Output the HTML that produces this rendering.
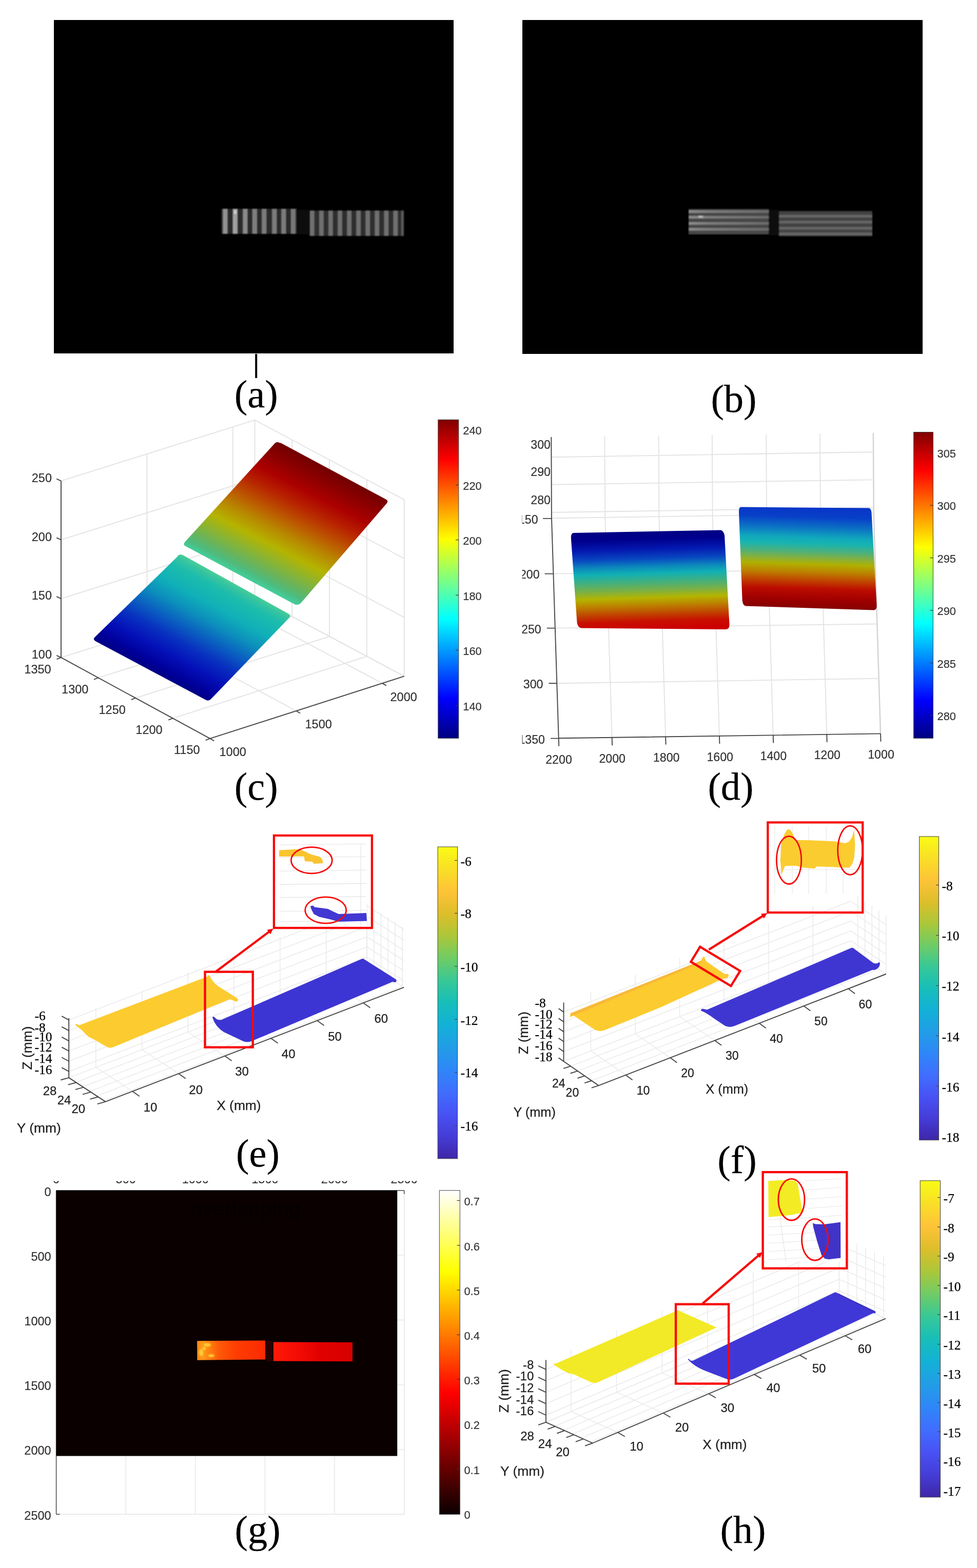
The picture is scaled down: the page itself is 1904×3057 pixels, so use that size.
<!DOCTYPE html>
<html lang="en"><head><meta charset="utf-8"><title>Figure</title>
<style>html,body{margin:0;padding:0;background:#fff}body{width:1904px;height:3057px;overflow:hidden}svg{display:block}text{white-space:pre}</style></head>
<body>
<svg width="1904" height="3057" viewBox="0 0 1904 3057"><defs><filter id="bl" x="-5%" y="-20%" width="110%" height="140%"><feGaussianBlur stdDeviation="1.3"/></filter><linearGradient id="g1" gradientUnits="userSpaceOnUse" x1="1342.0" y1="0.0" x2="1499.0" y2="0.0"><stop offset="0.0000" stop-color="#8c8c8c"/><stop offset="0.2500" stop-color="#7c7c7c"/><stop offset="1.0000" stop-color="#6a6a6a"/></linearGradient><linearGradient id="g2" gradientUnits="userSpaceOnUse" x1="349.4" y1="1081.1" x2="241.0" y2="1278.7"><stop offset="0.0000" stop-color="#46cc98"/><stop offset="0.0300" stop-color="#36c4a0"/><stop offset="0.1000" stop-color="#1cbcac"/><stop offset="0.2500" stop-color="#10b0b8"/><stop offset="0.3800" stop-color="#0c90bc"/><stop offset="0.5200" stop-color="#0a60c0"/><stop offset="0.6600" stop-color="#0830c0"/><stop offset="0.8000" stop-color="#0410b8"/><stop offset="0.9200" stop-color="#00009c"/><stop offset="1.0000" stop-color="#000084"/></linearGradient><linearGradient id="g3" gradientUnits="userSpaceOnUse" x1="539.0" y1="863.0" x2="418.5" y2="1093.1"><stop offset="0.0000" stop-color="#740000"/><stop offset="0.1000" stop-color="#8c0000"/><stop offset="0.2200" stop-color="#ac0000"/><stop offset="0.3400" stop-color="#b82400"/><stop offset="0.4600" stop-color="#bc5400"/><stop offset="0.5800" stop-color="#b88800"/><stop offset="0.7000" stop-color="#b4b400"/><stop offset="0.8000" stop-color="#8cb430"/><stop offset="0.9000" stop-color="#64b460"/><stop offset="0.9600" stop-color="#4cbc80"/><stop offset="1.0000" stop-color="#44cc98"/></linearGradient><linearGradient id="g4" gradientUnits="userSpaceOnUse" x1="0.0" y1="818.3" x2="0.0" y2="1439.3"><stop offset="0.0000" stop-color="#800000"/><stop offset="0.1250" stop-color="#ff0000"/><stop offset="0.2500" stop-color="#ff8000"/><stop offset="0.3750" stop-color="#ffff00"/><stop offset="0.5000" stop-color="#80ff80"/><stop offset="0.6250" stop-color="#00ffff"/><stop offset="0.7500" stop-color="#0080ff"/><stop offset="0.8750" stop-color="#0000ff"/><stop offset="1.0000" stop-color="#000080"/></linearGradient><clipPath id="clipd"><rect x="1017.6" y="830" width="760" height="680"/></clipPath><linearGradient id="g5" gradientUnits="userSpaceOnUse" x1="1262.0" y1="1036.0" x2="1268.0" y2="1226.0"><stop offset="0.0000" stop-color="#000084"/><stop offset="0.0800" stop-color="#00008c"/><stop offset="0.1800" stop-color="#0418b0"/><stop offset="0.2800" stop-color="#0848c0"/><stop offset="0.3600" stop-color="#0c88bc"/><stop offset="0.4300" stop-color="#10b0b4"/><stop offset="0.5200" stop-color="#44b07c"/><stop offset="0.6000" stop-color="#78b048"/><stop offset="0.6800" stop-color="#b4b400"/><stop offset="0.7600" stop-color="#bc8000"/><stop offset="0.8400" stop-color="#c04800"/><stop offset="0.9200" stop-color="#c81000"/><stop offset="1.0000" stop-color="#cc0000"/></linearGradient><linearGradient id="g6" gradientUnits="userSpaceOnUse" x1="1572.0" y1="988.0" x2="1566.0" y2="1187.0"><stop offset="0.0000" stop-color="#0834c8"/><stop offset="0.1000" stop-color="#0840c8"/><stop offset="0.2000" stop-color="#0c70c4"/><stop offset="0.3000" stop-color="#10a8bc"/><stop offset="0.3600" stop-color="#18b4b0"/><stop offset="0.4400" stop-color="#50b078"/><stop offset="0.5000" stop-color="#84b040"/><stop offset="0.5600" stop-color="#b0b000"/><stop offset="0.6400" stop-color="#bc8000"/><stop offset="0.7200" stop-color="#c04400"/><stop offset="0.8000" stop-color="#bc0c00"/><stop offset="0.9000" stop-color="#a00000"/><stop offset="1.0000" stop-color="#840000"/></linearGradient><linearGradient id="g7" gradientUnits="userSpaceOnUse" x1="0.0" y1="842.5" x2="0.0" y2="1439.3"><stop offset="0.0000" stop-color="#800000"/><stop offset="0.1250" stop-color="#ff0000"/><stop offset="0.2500" stop-color="#ff8000"/><stop offset="0.3750" stop-color="#ffff00"/><stop offset="0.5000" stop-color="#80ff80"/><stop offset="0.6250" stop-color="#00ffff"/><stop offset="0.7500" stop-color="#0080ff"/><stop offset="0.8750" stop-color="#0000ff"/><stop offset="1.0000" stop-color="#000080"/></linearGradient><linearGradient id="g8" gradientUnits="userSpaceOnUse" x1="0.0" y1="1651.0" x2="0.0" y2="2258.9"><stop offset="0.0000" stop-color="#f9fb15"/><stop offset="0.0710" stop-color="#f9df26"/><stop offset="0.1430" stop-color="#fec338"/><stop offset="0.2140" stop-color="#debe2a"/><stop offset="0.2860" stop-color="#abc739"/><stop offset="0.3570" stop-color="#70cc65"/><stop offset="0.4290" stop-color="#37c897"/><stop offset="0.5000" stop-color="#17beb9"/><stop offset="0.5710" stop-color="#12b1d6"/><stop offset="0.6430" stop-color="#229de7"/><stop offset="0.7140" stop-color="#2e87f7"/><stop offset="0.7850" stop-color="#406efe"/><stop offset="0.8570" stop-color="#4852f4"/><stop offset="0.9300" stop-color="#453cd6"/><stop offset="1.0000" stop-color="#3e26a8"/></linearGradient><linearGradient id="g9" gradientUnits="userSpaceOnUse" x1="0.0" y1="1630.9" x2="0.0" y2="2222.7"><stop offset="0.0000" stop-color="#f9fb15"/><stop offset="0.0710" stop-color="#f9df26"/><stop offset="0.1430" stop-color="#fec338"/><stop offset="0.2140" stop-color="#debe2a"/><stop offset="0.2860" stop-color="#abc739"/><stop offset="0.3570" stop-color="#70cc65"/><stop offset="0.4290" stop-color="#37c897"/><stop offset="0.5000" stop-color="#17beb9"/><stop offset="0.5710" stop-color="#12b1d6"/><stop offset="0.6430" stop-color="#229de7"/><stop offset="0.7140" stop-color="#2e87f7"/><stop offset="0.7850" stop-color="#406efe"/><stop offset="0.8570" stop-color="#4852f4"/><stop offset="0.9300" stop-color="#453cd6"/><stop offset="1.0000" stop-color="#3e26a8"/></linearGradient><clipPath id="clipg"><rect x="40" y="2302.5" width="800" height="5.5"/></clipPath><linearGradient id="g10" gradientUnits="userSpaceOnUse" x1="384.0" y1="0.0" x2="517.0" y2="0.0"><stop offset="0.0000" stop-color="#ff8410"/><stop offset="0.0800" stop-color="#ff9c1c"/><stop offset="0.2000" stop-color="#ff7a10"/><stop offset="0.3200" stop-color="#ff5a08"/><stop offset="0.5800" stop-color="#ff3c04"/><stop offset="1.0000" stop-color="#fc2a00"/></linearGradient><linearGradient id="g11" gradientUnits="userSpaceOnUse" x1="532.7" y1="0.0" x2="687.0" y2="0.0"><stop offset="0.0000" stop-color="#ff1a08"/><stop offset="0.3000" stop-color="#f40c04"/><stop offset="0.6000" stop-color="#e00000"/><stop offset="1.0000" stop-color="#d80000"/></linearGradient><linearGradient id="g12" gradientUnits="userSpaceOnUse" x1="0.0" y1="2320.9" x2="0.0" y2="2952.3"><stop offset="0.0000" stop-color="#ffffff"/><stop offset="0.2500" stop-color="#ffff00"/><stop offset="0.6250" stop-color="#ff0000"/><stop offset="1.0000" stop-color="#0a0000"/></linearGradient><linearGradient id="g13" gradientUnits="userSpaceOnUse" x1="0.0" y1="2301.9" x2="0.0" y2="2918.9"><stop offset="0.0000" stop-color="#f9fb15"/><stop offset="0.0710" stop-color="#f9df26"/><stop offset="0.1430" stop-color="#fec338"/><stop offset="0.2140" stop-color="#debe2a"/><stop offset="0.2860" stop-color="#abc739"/><stop offset="0.3570" stop-color="#70cc65"/><stop offset="0.4290" stop-color="#37c897"/><stop offset="0.5000" stop-color="#17beb9"/><stop offset="0.5710" stop-color="#12b1d6"/><stop offset="0.6430" stop-color="#229de7"/><stop offset="0.7140" stop-color="#2e87f7"/><stop offset="0.7850" stop-color="#406efe"/><stop offset="0.8570" stop-color="#4852f4"/><stop offset="0.9300" stop-color="#453cd6"/><stop offset="1.0000" stop-color="#3e26a8"/></linearGradient></defs>
<rect x="105.0" y="39.0" width="779.0" height="650.0" fill="#000" stroke="none" stroke-width="0" />
<g filter="url(#bl)"><rect x="431" y="407" width="148" height="49" fill="#2b2b2b"/><rect x="434.5" y="407" width="8.8" height="49" fill="#929292"/><rect x="453.9" y="407" width="8.8" height="49" fill="#a0a0a0"/><rect x="473.4" y="407" width="8.8" height="49" fill="#8a8a8a"/><rect x="492.0" y="407" width="8.8" height="49" fill="#7e7e7e"/><rect x="510.3" y="407" width="8.8" height="49" fill="#7c7c7c"/><rect x="530.3" y="407" width="8.8" height="49" fill="#7c7c7c"/><rect x="548.4" y="407" width="8.8" height="49" fill="#7c7c7c"/><rect x="567.0" y="407" width="8.8" height="49" fill="#787878"/><rect x="456.5" y="410" width="4" height="7" fill="#d8d8d8"/><rect x="581" y="409" width="20" height="48" fill="#0a0a0a"/><rect x="603" y="410.5" width="184" height="49.5" fill="#2e2e2e"/><rect x="604.1" y="410.5" width="8.4" height="49.5" fill="#707070"/><rect x="622.2" y="410.5" width="8.4" height="49.5" fill="#707070"/><rect x="640.2" y="410.5" width="8.4" height="49.5" fill="#707070"/><rect x="658.3" y="410.5" width="8.4" height="49.5" fill="#707070"/><rect x="676.4" y="410.5" width="8.4" height="49.5" fill="#707070"/><rect x="694.4" y="410.5" width="8.4" height="49.5" fill="#707070"/><rect x="712.5" y="410.5" width="8.4" height="49.5" fill="#707070"/><rect x="730.5" y="410.5" width="8.4" height="49.5" fill="#707070"/><rect x="748.6" y="410.5" width="8.4" height="49.5" fill="#707070"/><rect x="766.6" y="410.5" width="8.4" height="49.5" fill="#707070"/><rect x="782" y="410.5" width="5" height="49.5" fill="#5a5a5a"/></g>
<rect x="497.2" y="690.0" width="4.0" height="47.0" fill="#000" stroke="none" stroke-width="0" />
<rect x="1018.0" y="39.0" width="780.0" height="651.0" fill="#000" stroke="none" stroke-width="0" />
<g filter="url(#bl)"><rect x="1342" y="407.5" width="156.5" height="49.5" fill="#464646"/><rect x="1342" y="409.9" width="156.5" height="5.2" fill="url(#g1)"/><rect x="1342" y="420.9" width="156.5" height="5.2" fill="url(#g1)"/><rect x="1342" y="432.9" width="156.5" height="5.2" fill="url(#g1)"/><rect x="1342" y="444.4" width="156.5" height="5.2" fill="url(#g1)"/><rect x="1361" y="420.5" width="9" height="4" fill="#b8b8b8"/><rect x="1500" y="409" width="17" height="50" fill="#0c0c0c"/><rect x="1518" y="411.5" width="182" height="49" fill="#424242"/><rect x="1518" y="418.9" width="182" height="5.2" fill="#666666"/><rect x="1518" y="430.4" width="182" height="5.2" fill="#666666"/><rect x="1518" y="442.4" width="182" height="5.2" fill="#666666"/><rect x="1518" y="453.4" width="182" height="5.2" fill="#666666"/></g>
<line x1="119.0" y1="1281.9" x2="496.5" y2="1163.2" stroke="#e3e3e3" stroke-width="1.9" />
<line x1="496.5" y1="1163.2" x2="787.7" y2="1318.4" stroke="#e3e3e3" stroke-width="1.9" />
<line x1="119.0" y1="1167.1" x2="496.5" y2="1048.4" stroke="#e3e3e3" stroke-width="1.9" />
<line x1="496.5" y1="1048.4" x2="787.7" y2="1203.6" stroke="#e3e3e3" stroke-width="1.9" />
<line x1="119.0" y1="1052.4" x2="496.5" y2="933.7" stroke="#e3e3e3" stroke-width="1.9" />
<line x1="496.5" y1="933.7" x2="787.7" y2="1088.9" stroke="#e3e3e3" stroke-width="1.9" />
<line x1="119.0" y1="937.6" x2="496.5" y2="818.9" stroke="#e3e3e3" stroke-width="1.9" />
<line x1="496.5" y1="818.9" x2="787.7" y2="974.1" stroke="#e3e3e3" stroke-width="1.9" />
<line x1="286.5" y1="1229.2" x2="286.5" y2="884.9" stroke="#e3e3e3" stroke-width="1.9" />
<line x1="286.5" y1="1229.2" x2="577.2" y2="1386.0" stroke="#e3e3e3" stroke-width="1.9" />
<line x1="453.8" y1="1176.6" x2="453.8" y2="832.3" stroke="#e3e3e3" stroke-width="1.9" />
<line x1="453.8" y1="1176.6" x2="744.9" y2="1332.1" stroke="#e3e3e3" stroke-width="1.9" />
<line x1="496.5" y1="1163.2" x2="496.5" y2="818.9" stroke="#e3e3e3" stroke-width="1.9" />
<line x1="496.5" y1="1163.2" x2="787.7" y2="1318.4" stroke="#e3e3e3" stroke-width="1.9" />
<line x1="569.3" y1="1202.0" x2="569.3" y2="857.7" stroke="#e3e3e3" stroke-width="1.9" />
<line x1="569.3" y1="1202.0" x2="191.6" y2="1321.4" stroke="#e3e3e3" stroke-width="1.9" />
<line x1="642.1" y1="1240.8" x2="642.1" y2="896.5" stroke="#e3e3e3" stroke-width="1.9" />
<line x1="642.1" y1="1240.8" x2="264.1" y2="1360.9" stroke="#e3e3e3" stroke-width="1.9" />
<line x1="714.9" y1="1279.6" x2="714.9" y2="935.3" stroke="#e3e3e3" stroke-width="1.9" />
<line x1="714.9" y1="1279.6" x2="336.7" y2="1400.4" stroke="#e3e3e3" stroke-width="1.9" />
<line x1="787.7" y1="1318.4" x2="787.7" y2="974.1" stroke="#e3e3e3" stroke-width="1.9" />
<line x1="787.7" y1="1318.4" x2="409.3" y2="1439.9" stroke="#e3e3e3" stroke-width="1.9" />
<path d="M351,1081 Q347,1082 344,1087 L184,1243 Q181,1247 186,1250 L400,1364 Q406,1368 411,1363 L564,1204 Q567,1200 563,1197 L356,1082 Z" fill="url(#g2)" stroke="none" stroke-width="0" />
<path d="M541,862 Q537,862 534,866 L360,1057 Q356,1062 362,1065 L572,1177 Q580,1182 586,1176 L754,981 Q757,977 753,974 L548,864 Z" fill="url(#g3)" stroke="none" stroke-width="0" />
<line x1="119.0" y1="1281.9" x2="119.0" y2="937.6" stroke="#454545" stroke-width="1.9" />
<line x1="119.0" y1="1281.9" x2="409.3" y2="1439.9" stroke="#454545" stroke-width="1.9" />
<line x1="409.3" y1="1439.9" x2="787.7" y2="1318.4" stroke="#454545" stroke-width="1.9" />
<line x1="119.0" y1="1281.9" x2="110.2" y2="1277.9" stroke="#454545" stroke-width="1.9" />
<text x="101.0" y="1284.0" font-size="23.5" text-anchor="end" font-family="'Liberation Sans', Arial, Helvetica, sans-serif" fill="#303030" stroke="#303030" stroke-width="0.2" >100</text>
<line x1="119.0" y1="1167.1" x2="110.2" y2="1163.1" stroke="#454545" stroke-width="1.9" />
<text x="101.0" y="1169.2" font-size="23.5" text-anchor="end" font-family="'Liberation Sans', Arial, Helvetica, sans-serif" fill="#303030" stroke="#303030" stroke-width="0.2" >150</text>
<line x1="119.0" y1="1052.4" x2="110.2" y2="1048.4" stroke="#454545" stroke-width="1.9" />
<text x="101.0" y="1054.5" font-size="23.5" text-anchor="end" font-family="'Liberation Sans', Arial, Helvetica, sans-serif" fill="#303030" stroke="#303030" stroke-width="0.2" >200</text>
<line x1="119.0" y1="937.6" x2="110.2" y2="933.6" stroke="#454545" stroke-width="1.9" />
<text x="101.0" y="939.7" font-size="23.5" text-anchor="end" font-family="'Liberation Sans', Arial, Helvetica, sans-serif" fill="#303030" stroke="#303030" stroke-width="0.2" >250</text>
<line x1="119.0" y1="1281.9" x2="110.5" y2="1285.1" stroke="#454545" stroke-width="1.9" />
<text x="99.6" y="1313.2" font-size="23.5" text-anchor="end" font-family="'Liberation Sans', Arial, Helvetica, sans-serif" fill="#303030" stroke="#303030" stroke-width="0.2" >1350</text>
<line x1="191.6" y1="1321.4" x2="183.1" y2="1324.6" stroke="#454545" stroke-width="1.9" />
<text x="172.4" y="1352.3" font-size="23.5" text-anchor="end" font-family="'Liberation Sans', Arial, Helvetica, sans-serif" fill="#303030" stroke="#303030" stroke-width="0.2" >1300</text>
<line x1="264.1" y1="1360.9" x2="255.6" y2="1364.1" stroke="#454545" stroke-width="1.9" />
<text x="244.8" y="1391.6" font-size="23.5" text-anchor="end" font-family="'Liberation Sans', Arial, Helvetica, sans-serif" fill="#303030" stroke="#303030" stroke-width="0.2" >1250</text>
<line x1="336.7" y1="1400.4" x2="328.2" y2="1403.6" stroke="#454545" stroke-width="1.9" />
<text x="316.6" y="1431.0" font-size="23.5" text-anchor="end" font-family="'Liberation Sans', Arial, Helvetica, sans-serif" fill="#303030" stroke="#303030" stroke-width="0.2" >1200</text>
<line x1="409.3" y1="1439.9" x2="400.8" y2="1443.1" stroke="#454545" stroke-width="1.9" />
<text x="389.6" y="1470.3" font-size="23.5" text-anchor="end" font-family="'Liberation Sans', Arial, Helvetica, sans-serif" fill="#303030" stroke="#303030" stroke-width="0.2" >1150</text>
<line x1="409.3" y1="1439.9" x2="417.3" y2="1444.4" stroke="#454545" stroke-width="1.9" />
<text x="427.5" y="1474.4" font-size="23.5" text-anchor="start" font-family="'Liberation Sans', Arial, Helvetica, sans-serif" fill="#303030" stroke="#303030" stroke-width="0.2" >1000</text>
<line x1="577.2" y1="1386.0" x2="585.2" y2="1390.5" stroke="#454545" stroke-width="1.9" />
<text x="594.5" y="1420.0" font-size="23.5" text-anchor="start" font-family="'Liberation Sans', Arial, Helvetica, sans-serif" fill="#303030" stroke="#303030" stroke-width="0.2" >1500</text>
<line x1="744.9" y1="1332.1" x2="752.9" y2="1336.6" stroke="#454545" stroke-width="1.9" />
<text x="760.5" y="1366.8" font-size="23.5" text-anchor="start" font-family="'Liberation Sans', Arial, Helvetica, sans-serif" fill="#303030" stroke="#303030" stroke-width="0.2" >2000</text>
<rect x="853.8" y="818.3" width="40.0" height="621.0" fill="url(#g4)" stroke="#404040" stroke-width="1" />
<text x="902.3" y="847.4" font-size="21.8" text-anchor="start" font-family="'Liberation Sans', Arial, Helvetica, sans-serif" fill="#333" stroke="#333" stroke-width="0.2" >240</text>
<text x="902.3" y="955.1" font-size="21.8" text-anchor="start" font-family="'Liberation Sans', Arial, Helvetica, sans-serif" fill="#333" stroke="#333" stroke-width="0.2" >220</text>
<text x="902.3" y="1062.1" font-size="21.8" text-anchor="start" font-family="'Liberation Sans', Arial, Helvetica, sans-serif" fill="#333" stroke="#333" stroke-width="0.2" >200</text>
<text x="902.3" y="1169.8" font-size="21.8" text-anchor="start" font-family="'Liberation Sans', Arial, Helvetica, sans-serif" fill="#333" stroke="#333" stroke-width="0.2" >180</text>
<text x="902.3" y="1277.0" font-size="21.8" text-anchor="start" font-family="'Liberation Sans', Arial, Helvetica, sans-serif" fill="#333" stroke="#333" stroke-width="0.2" >160</text>
<text x="902.3" y="1385.0" font-size="21.8" text-anchor="start" font-family="'Liberation Sans', Arial, Helvetica, sans-serif" fill="#333" stroke="#333" stroke-width="0.2" >140</text>
<line x1="888.0" y1="837.9" x2="893.8" y2="837.9" stroke="#333" stroke-width="1.2" />
<line x1="888.0" y1="945.6" x2="893.8" y2="945.6" stroke="#333" stroke-width="1.2" />
<line x1="888.0" y1="1052.6" x2="893.8" y2="1052.6" stroke="#333" stroke-width="1.2" />
<line x1="888.0" y1="1160.3" x2="893.8" y2="1160.3" stroke="#333" stroke-width="1.2" />
<line x1="888.0" y1="1267.5" x2="893.8" y2="1267.5" stroke="#333" stroke-width="1.2" />
<line x1="888.0" y1="1375.5" x2="893.8" y2="1375.5" stroke="#333" stroke-width="1.2" />
<g clip-path="url(#clipd)">
<path d="M1178.4,850.4 L1179.2,1008.6 L1192.6,1437.7" fill="none" stroke="#e3e3e3" stroke-width="1.9" />
<path d="M1283.6,849.0 L1284.4,1007.1 L1297.1,1436.1" fill="none" stroke="#e3e3e3" stroke-width="1.9" />
<path d="M1387.8,847.7 L1388.6,1005.6 L1401.9,1434.5" fill="none" stroke="#e3e3e3" stroke-width="1.9" />
<path d="M1493.2,846.5 L1494.0,1004.1 L1506.7,1433.0" fill="none" stroke="#e3e3e3" stroke-width="1.9" />
<path d="M1598.0,845.2 L1598.8,1002.6 L1611.2,1431.4" fill="none" stroke="#e3e3e3" stroke-width="1.9" />
<path d="M1701.9,844 L1702.7,1001 L1716,1430.4" fill="none" stroke="#d2d2d2" stroke-width="2.4" />
<line x1="1074.5" y1="891.3" x2="1702.1" y2="881.2" stroke="#e3e3e3" stroke-width="1.9" />
<line x1="1074.7" y1="944.8" x2="1702.4" y2="935.4" stroke="#e3e3e3" stroke-width="1.9" />
<line x1="1074.8" y1="999.0" x2="1702.6" y2="989.6" stroke="#e3e3e3" stroke-width="1.9" />
<line x1="1074.9" y1="1010.3" x2="1702.7" y2="1001.0" stroke="#e3e3e3" stroke-width="1.9" />
<line x1="1078.4" y1="1118.6" x2="1706.1" y2="1109.5" stroke="#e3e3e3" stroke-width="1.9" />
<line x1="1081.8" y1="1224.6" x2="1709.4" y2="1216.5" stroke="#e3e3e3" stroke-width="1.9" />
<line x1="1085.3" y1="1332.2" x2="1712.7" y2="1322.8" stroke="#e3e3e3" stroke-width="1.9" />
<path d="M1117,1039 L1404,1033.5 Q1410,1034 1412,1044 L1421.5,1218 Q1421.5,1227 1414,1227 L1134,1224.5 Q1126,1224 1124.5,1214 L1113,1052 Q1112,1040 1117,1039 Z" fill="url(#g5)" stroke="none" stroke-width="0" />
<path d="M1444,988.5 L1693,990.5 Q1698,991 1698.5,1000 L1708.5,1180 Q1709,1190 1702,1189.5 L1454,1181.5 Q1447,1181 1446.5,1168 L1440,1000 Q1439.5,988.5 1444,988.5 Z" fill="url(#g6)" stroke="none" stroke-width="0" />
<path d="M1074.3,852 L1074.9,1009 L1088.7,1439.3 L1716,1430.4" fill="none" stroke="#454545" stroke-width="1.9" stroke-linejoin="round"/>
<line x1="1058.0" y1="1010.9" x2="1075.0" y2="1010.9" stroke="#454545" stroke-width="1.9" />
<text x="1048.6" y="1020.9" font-size="23.2" text-anchor="end" font-family="'Liberation Sans', Arial, Helvetica, sans-serif" fill="#303030" stroke="#303030" stroke-width="0.2" >150</text>
<line x1="1061.6" y1="1118.6" x2="1078.4" y2="1118.6" stroke="#454545" stroke-width="1.9" />
<text x="1051.6" y="1127.8" font-size="23.2" text-anchor="end" font-family="'Liberation Sans', Arial, Helvetica, sans-serif" fill="#303030" stroke="#303030" stroke-width="0.2" >200</text>
<line x1="1065.7" y1="1224.6" x2="1081.8" y2="1224.6" stroke="#454545" stroke-width="1.9" />
<text x="1054.7" y="1235.0" font-size="23.2" text-anchor="end" font-family="'Liberation Sans', Arial, Helvetica, sans-serif" fill="#303030" stroke="#303030" stroke-width="0.2" >250</text>
<line x1="1069.5" y1="1332.2" x2="1085.3" y2="1332.2" stroke="#454545" stroke-width="1.9" />
<text x="1058.5" y="1342.0" font-size="23.2" text-anchor="end" font-family="'Liberation Sans', Arial, Helvetica, sans-serif" fill="#303030" stroke="#303030" stroke-width="0.2" >300</text>
<line x1="1073.0" y1="1439.6" x2="1088.7" y2="1439.6" stroke="#454545" stroke-width="1.9" />
<text x="1062.0" y="1449.6" font-size="23.2" text-anchor="end" font-family="'Liberation Sans', Arial, Helvetica, sans-serif" fill="#303030" stroke="#303030" stroke-width="0.2" >1350</text>
<text x="1073.0" y="875.1" font-size="23.2" text-anchor="end" font-family="'Liberation Sans', Arial, Helvetica, sans-serif" fill="#303030" stroke="#303030" stroke-width="0.2" >300</text>
<text x="1073.0" y="928.1" font-size="23.2" text-anchor="end" font-family="'Liberation Sans', Arial, Helvetica, sans-serif" fill="#303030" stroke="#303030" stroke-width="0.2" >290</text>
<text x="1073.0" y="983.2" font-size="23.2" text-anchor="end" font-family="'Liberation Sans', Arial, Helvetica, sans-serif" fill="#303030" stroke="#303030" stroke-width="0.2" >280</text>
<line x1="1088.7" y1="1439.3" x2="1089.2" y2="1454.8" stroke="#454545" stroke-width="1.9" />
<text x="1089.0" y="1488.5" font-size="23.2" text-anchor="middle" font-family="'Liberation Sans', Arial, Helvetica, sans-serif" fill="#303030" stroke="#303030" stroke-width="0.2" >2200</text>
<line x1="1192.6" y1="1437.7" x2="1193.1" y2="1453.2" stroke="#454545" stroke-width="1.9" />
<text x="1193.2" y="1486.9" font-size="23.2" text-anchor="middle" font-family="'Liberation Sans', Arial, Helvetica, sans-serif" fill="#303030" stroke="#303030" stroke-width="0.2" >2000</text>
<line x1="1297.1" y1="1436.1" x2="1297.6" y2="1451.6" stroke="#454545" stroke-width="1.9" />
<text x="1298.7" y="1485.3" font-size="23.2" text-anchor="middle" font-family="'Liberation Sans', Arial, Helvetica, sans-serif" fill="#303030" stroke="#303030" stroke-width="0.2" >1800</text>
<line x1="1401.9" y1="1434.5" x2="1402.4" y2="1450.0" stroke="#454545" stroke-width="1.9" />
<text x="1403.2" y="1483.8" font-size="23.2" text-anchor="middle" font-family="'Liberation Sans', Arial, Helvetica, sans-serif" fill="#303030" stroke="#303030" stroke-width="0.2" >1600</text>
<line x1="1506.7" y1="1433.0" x2="1507.2" y2="1448.5" stroke="#454545" stroke-width="1.9" />
<text x="1507.3" y="1481.6" font-size="23.2" text-anchor="middle" font-family="'Liberation Sans', Arial, Helvetica, sans-serif" fill="#303030" stroke="#303030" stroke-width="0.2" >1400</text>
<line x1="1611.2" y1="1431.4" x2="1611.7" y2="1446.9" stroke="#454545" stroke-width="1.9" />
<text x="1612.2" y="1480.0" font-size="23.2" text-anchor="middle" font-family="'Liberation Sans', Arial, Helvetica, sans-serif" fill="#303030" stroke="#303030" stroke-width="0.2" >1200</text>
<line x1="1716.0" y1="1430.4" x2="1716.5" y2="1445.9" stroke="#454545" stroke-width="1.9" />
<text x="1717.0" y="1479.0" font-size="23.2" text-anchor="middle" font-family="'Liberation Sans', Arial, Helvetica, sans-serif" fill="#303030" stroke="#303030" stroke-width="0.2" >1000</text>
</g>
<rect x="1780.6" y="842.5" width="37.8" height="596.8" fill="url(#g7)" stroke="#404040" stroke-width="1" />
<text x="1826.6" y="891.5" font-size="21.8" text-anchor="start" font-family="'Liberation Sans', Arial, Helvetica, sans-serif" fill="#333" stroke="#333" stroke-width="0.2" >305</text>
<text x="1826.6" y="994.4" font-size="21.8" text-anchor="start" font-family="'Liberation Sans', Arial, Helvetica, sans-serif" fill="#333" stroke="#333" stroke-width="0.2" >300</text>
<text x="1826.6" y="1096.7" font-size="21.8" text-anchor="start" font-family="'Liberation Sans', Arial, Helvetica, sans-serif" fill="#333" stroke="#333" stroke-width="0.2" >295</text>
<text x="1826.6" y="1199.1" font-size="21.8" text-anchor="start" font-family="'Liberation Sans', Arial, Helvetica, sans-serif" fill="#333" stroke="#333" stroke-width="0.2" >290</text>
<text x="1826.6" y="1301.5" font-size="21.8" text-anchor="start" font-family="'Liberation Sans', Arial, Helvetica, sans-serif" fill="#333" stroke="#333" stroke-width="0.2" >285</text>
<text x="1826.6" y="1403.9" font-size="21.8" text-anchor="start" font-family="'Liberation Sans', Arial, Helvetica, sans-serif" fill="#333" stroke="#333" stroke-width="0.2" >280</text>
<line x1="1812.5" y1="882.4" x2="1818.4" y2="882.4" stroke="#333" stroke-width="1.2" />
<line x1="1812.5" y1="985.3" x2="1818.4" y2="985.3" stroke="#333" stroke-width="1.2" />
<line x1="1812.5" y1="1087.6" x2="1818.4" y2="1087.6" stroke="#333" stroke-width="1.2" />
<line x1="1812.5" y1="1190.0" x2="1818.4" y2="1190.0" stroke="#333" stroke-width="1.2" />
<line x1="1812.5" y1="1292.4" x2="1818.4" y2="1292.4" stroke="#333" stroke-width="1.2" />
<line x1="1812.5" y1="1394.8" x2="1818.4" y2="1394.8" stroke="#333" stroke-width="1.2" />
<line x1="134.2" y1="1988.6" x2="715.0" y2="1765.8" stroke="#e9e9e9" stroke-width="1.4" />
<line x1="715.0" y1="1765.8" x2="787.3" y2="1812.4" stroke="#e9e9e9" stroke-width="1.4" />
<line x1="134.2" y1="2009.4" x2="715.0" y2="1786.6" stroke="#e9e9e9" stroke-width="1.4" />
<line x1="715.0" y1="1786.6" x2="787.3" y2="1833.2" stroke="#e9e9e9" stroke-width="1.4" />
<line x1="134.2" y1="2029.3" x2="715.0" y2="1806.5" stroke="#e9e9e9" stroke-width="1.4" />
<line x1="715.0" y1="1806.5" x2="787.3" y2="1853.1" stroke="#e9e9e9" stroke-width="1.4" />
<line x1="134.2" y1="2049.1" x2="715.0" y2="1826.3" stroke="#e9e9e9" stroke-width="1.4" />
<line x1="715.0" y1="1826.3" x2="787.3" y2="1872.9" stroke="#e9e9e9" stroke-width="1.4" />
<line x1="134.2" y1="2069.0" x2="715.0" y2="1846.2" stroke="#e9e9e9" stroke-width="1.4" />
<line x1="715.0" y1="1846.2" x2="787.3" y2="1892.8" stroke="#e9e9e9" stroke-width="1.4" />
<line x1="134.2" y1="2088.8" x2="715.0" y2="1866.0" stroke="#e9e9e9" stroke-width="1.4" />
<line x1="715.0" y1="1866.0" x2="787.3" y2="1912.6" stroke="#e9e9e9" stroke-width="1.4" />
<line x1="186.8" y1="2080.9" x2="186.8" y2="1964.9" stroke="#e9e9e9" stroke-width="1.4" />
<line x1="186.8" y1="2080.9" x2="258.2" y2="2127.7" stroke="#e9e9e9" stroke-width="1.4" />
<line x1="276.6" y1="2046.5" x2="276.6" y2="1930.5" stroke="#e9e9e9" stroke-width="1.4" />
<line x1="276.6" y1="2046.5" x2="348.2" y2="2093.2" stroke="#e9e9e9" stroke-width="1.4" />
<line x1="366.3" y1="2012.0" x2="366.3" y2="1896.0" stroke="#e9e9e9" stroke-width="1.4" />
<line x1="366.3" y1="2012.0" x2="438.1" y2="2058.8" stroke="#e9e9e9" stroke-width="1.4" />
<line x1="456.1" y1="1977.6" x2="456.1" y2="1861.6" stroke="#e9e9e9" stroke-width="1.4" />
<line x1="456.1" y1="1977.6" x2="528.0" y2="2024.3" stroke="#e9e9e9" stroke-width="1.4" />
<line x1="545.9" y1="1943.2" x2="545.9" y2="1827.2" stroke="#e9e9e9" stroke-width="1.4" />
<line x1="545.9" y1="1943.2" x2="618.0" y2="1989.8" stroke="#e9e9e9" stroke-width="1.4" />
<line x1="635.7" y1="1908.7" x2="635.7" y2="1792.7" stroke="#e9e9e9" stroke-width="1.4" />
<line x1="635.7" y1="1908.7" x2="707.9" y2="1955.3" stroke="#e9e9e9" stroke-width="1.4" />
<line x1="715.0" y1="1878.3" x2="715.0" y2="1762.3" stroke="#e9e9e9" stroke-width="1.4" />
<line x1="715.0" y1="1878.3" x2="787.3" y2="1924.9" stroke="#e9e9e9" stroke-width="1.4" />
<line x1="715.0" y1="1878.3" x2="715.0" y2="1762.3" stroke="#e9e9e9" stroke-width="1.4" />
<line x1="715.0" y1="1878.3" x2="134.2" y2="2101.1" stroke="#e9e9e9" stroke-width="1.4" />
<line x1="728.7" y1="1887.2" x2="728.7" y2="1771.2" stroke="#e9e9e9" stroke-width="1.4" />
<line x1="728.7" y1="1887.2" x2="147.8" y2="2110.0" stroke="#e9e9e9" stroke-width="1.4" />
<line x1="742.5" y1="1896.0" x2="742.5" y2="1780.0" stroke="#e9e9e9" stroke-width="1.4" />
<line x1="742.5" y1="1896.0" x2="161.3" y2="2118.9" stroke="#e9e9e9" stroke-width="1.4" />
<line x1="756.2" y1="1904.9" x2="756.2" y2="1788.9" stroke="#e9e9e9" stroke-width="1.4" />
<line x1="756.2" y1="1904.9" x2="174.9" y2="2127.8" stroke="#e9e9e9" stroke-width="1.4" />
<line x1="769.9" y1="1913.7" x2="769.9" y2="1797.7" stroke="#e9e9e9" stroke-width="1.4" />
<line x1="769.9" y1="1913.7" x2="188.5" y2="2136.7" stroke="#e9e9e9" stroke-width="1.4" />
<line x1="784.0" y1="1922.8" x2="784.0" y2="1806.8" stroke="#e9e9e9" stroke-width="1.4" />
<line x1="784.0" y1="1922.8" x2="202.4" y2="2145.8" stroke="#e9e9e9" stroke-width="1.4" />
<path d="M147,1998.5 Q146.5,1996 150,1996.5 L154,1999 L404,1904 Q406,1899 409,1903 Q414,1914 424,1922 L462,1946 Q465,1949 463,1952 Q460,1954 456,1951 L448,1948 L222,2041 Q214,2044.5 208,2041 L186,2028 L172,2021 L158,2007 Z" fill="#fccb2f" stroke="none" stroke-width="0" />
<path d="M414,1984 Q415,1980 419,1984 Q424,1990 432,1988 L705,1869.5 Q708,1868 711,1871 L771,1909 Q774,1911 772,1914 Q770,1916 765,1914 L490,2030 Q482,2033 474,2030 L436,2012 Q420,2002 414,1984 Z" fill="#3d35d3" stroke="none" stroke-width="0" />
<line x1="134.2" y1="2101.6" x2="134.2" y2="1985.1" stroke="#454545" stroke-width="1.9" />
<line x1="134.2" y1="2101.1" x2="205.6" y2="2147.9" stroke="#454545" stroke-width="1.9" />
<line x1="205.6" y1="2147.9" x2="787.3" y2="1924.9" stroke="#454545" stroke-width="1.9" />
<line x1="134.2" y1="1988.6" x2="120.3" y2="1981.1" stroke="#454545" stroke-width="1.9" />
<line x1="134.2" y1="2009.4" x2="120.3" y2="2001.9" stroke="#454545" stroke-width="1.9" />
<line x1="134.2" y1="2029.3" x2="120.3" y2="2021.8" stroke="#454545" stroke-width="1.9" />
<line x1="134.2" y1="2049.1" x2="120.3" y2="2041.6" stroke="#454545" stroke-width="1.9" />
<line x1="134.2" y1="2069.0" x2="120.3" y2="2061.5" stroke="#454545" stroke-width="1.9" />
<line x1="134.2" y1="2088.8" x2="120.3" y2="2081.3" stroke="#454545" stroke-width="1.9" />
<line x1="134.2" y1="2101.1" x2="118.3" y2="2105.5" stroke="#454545" stroke-width="1.9" />
<line x1="148.5" y1="2110.5" x2="132.6" y2="2114.9" stroke="#454545" stroke-width="1.9" />
<line x1="162.8" y1="2119.8" x2="146.9" y2="2124.2" stroke="#454545" stroke-width="1.9" />
<line x1="177.0" y1="2129.2" x2="161.1" y2="2133.6" stroke="#454545" stroke-width="1.9" />
<line x1="191.3" y1="2138.5" x2="175.4" y2="2142.9" stroke="#454545" stroke-width="1.9" />
<line x1="205.6" y1="2147.9" x2="189.7" y2="2152.3" stroke="#454545" stroke-width="1.9" />
<line x1="258.2" y1="2127.7" x2="271.7" y2="2137.2" stroke="#454545" stroke-width="1.9" />
<line x1="348.2" y1="2093.2" x2="361.7" y2="2102.7" stroke="#454545" stroke-width="1.9" />
<line x1="438.1" y1="2058.8" x2="451.6" y2="2068.3" stroke="#454545" stroke-width="1.9" />
<line x1="528.0" y1="2024.3" x2="541.5" y2="2033.8" stroke="#454545" stroke-width="1.9" />
<line x1="618.0" y1="1989.8" x2="631.5" y2="1999.3" stroke="#454545" stroke-width="1.9" />
<line x1="707.9" y1="1955.3" x2="721.4" y2="1964.8" stroke="#454545" stroke-width="1.9" />
<rect x="399.5" y="1894.7" width="93.2" height="147.1" fill="none" stroke="#f80808" stroke-width="4.4" />
<line x1="419.0" y1="1895.5" x2="525.3" y2="1815.9" stroke="#f80808" stroke-width="4.3" />
<polygon points="532.5,1810.5 527.0,1821.5 520.4,1812.7" fill="#f80808" stroke="none" stroke-width="0" />
<rect x="535.0" y="1630.0" width="180.0" height="178.0" fill="#fff" stroke="none" stroke-width="0" />
<rect x="533.9" y="1628.9" width="191.0" height="180.2" fill="none" stroke="#f80808" stroke-width="4.3" />
<line x1="544.0" y1="1647.3" x2="713.5" y2="1645.3" stroke="#e2e2e2" stroke-width="1.1" />
<line x1="544.0" y1="1672.0" x2="713.5" y2="1670.0" stroke="#e2e2e2" stroke-width="1.1" />
<line x1="544.0" y1="1698.2" x2="713.5" y2="1696.2" stroke="#e2e2e2" stroke-width="1.1" />
<line x1="544.0" y1="1724.4" x2="713.5" y2="1722.4" stroke="#e2e2e2" stroke-width="1.1" />
<line x1="544.0" y1="1749.9" x2="713.5" y2="1747.9" stroke="#e2e2e2" stroke-width="1.1" />
<line x1="544.0" y1="1776.8" x2="713.5" y2="1774.8" stroke="#e2e2e2" stroke-width="1.1" />
<line x1="544.0" y1="1797.0" x2="713.5" y2="1795.0" stroke="#e2e2e2" stroke-width="1.1" />
<line x1="703.0" y1="1646.0" x2="703.0" y2="1806.0" stroke="#e2e2e2" stroke-width="1.1" />
<path d="M544,1657.5 L584,1655.5 L592,1659 L607,1666 L622,1670 Q629,1674 629,1680 L629,1683 L611,1684 L609,1680 L594,1679 L592.5,1669.5 L544,1670 Z" fill="#fac42e" stroke="none" stroke-width="0" />
<path d="M605,1766.5 L610,1765.5 L613,1768.5 L639,1772 L648,1776.5 L660,1782 L714,1780 L715,1795.5 L660,1797 L644,1792.5 L622,1787.5 L611.5,1782 L606,1771 Z" fill="#4238d2" stroke="none" stroke-width="0" />
<ellipse cx="607.3" cy="1677.3" rx="40.0" ry="25.6" fill="none" stroke="#f80808" stroke-width="2.8" />
<ellipse cx="634.7" cy="1774.5" rx="40.0" ry="25.6" fill="none" stroke="#f80808" stroke-width="2.8" />
<text x="67.5" y="1988.8" font-size="25.5" text-anchor="start" font-family="'Liberation Serif', 'Times New Roman', Times, serif" fill="#000" stroke="#000" stroke-width="0.25" >-6</text>
<text x="67.5" y="2011.8" font-size="25.5" text-anchor="start" font-family="'Liberation Serif', 'Times New Roman', Times, serif" fill="#000" stroke="#000" stroke-width="0.25" >-8</text>
<text x="67.5" y="2029.9" font-size="25.5" text-anchor="start" font-family="'Liberation Serif', 'Times New Roman', Times, serif" fill="#000" stroke="#000" stroke-width="0.25" >-10</text>
<text x="67.5" y="2049.9" font-size="25.5" text-anchor="start" font-family="'Liberation Serif', 'Times New Roman', Times, serif" fill="#000" stroke="#000" stroke-width="0.25" >-12</text>
<text x="67.5" y="2071.7" font-size="25.5" text-anchor="start" font-family="'Liberation Serif', 'Times New Roman', Times, serif" fill="#000" stroke="#000" stroke-width="0.25" >-14</text>
<text x="67.5" y="2093.5" font-size="25.5" text-anchor="start" font-family="'Liberation Serif', 'Times New Roman', Times, serif" fill="#000" stroke="#000" stroke-width="0.25" >-16</text>
<text transform="translate(52.3,2043.3) rotate(-90) scale(1.0,1)" x="0" y="9.45" font-size="26.4" text-anchor="middle" font-family="'Liberation Sans', Arial, Helvetica, sans-serif" fill="#1e1e1e" stroke="#1e1e1e" stroke-width="0.25">Z (mm)</text>
<text transform="translate(97.0,2126.5) scale(1.0,1)" x="0" y="8.59" font-size="24" text-anchor="middle" font-family="'Liberation Sans', Arial, Helvetica, sans-serif" fill="#1e1e1e" stroke="#1e1e1e" stroke-width="0.25">28</text>
<text transform="translate(125.0,2144.6) scale(1.0,1)" x="0" y="8.59" font-size="24" text-anchor="middle" font-family="'Liberation Sans', Arial, Helvetica, sans-serif" fill="#1e1e1e" stroke="#1e1e1e" stroke-width="0.25">24</text>
<text transform="translate(152.8,2161.8) scale(1.0,1)" x="0" y="8.59" font-size="24" text-anchor="middle" font-family="'Liberation Sans', Arial, Helvetica, sans-serif" fill="#1e1e1e" stroke="#1e1e1e" stroke-width="0.25">20</text>
<text transform="translate(75.8,2198.9) scale(1.0,1)" x="0" y="9.45" font-size="26.4" text-anchor="middle" font-family="'Liberation Sans', Arial, Helvetica, sans-serif" fill="#1e1e1e" stroke="#1e1e1e" stroke-width="0.25">Y (mm)</text>
<text transform="translate(293.0,2158.7) scale(1.0,1)" x="0" y="8.59" font-size="24" text-anchor="middle" font-family="'Liberation Sans', Arial, Helvetica, sans-serif" fill="#1e1e1e" stroke="#1e1e1e" stroke-width="0.25">10</text>
<text transform="translate(381.7,2124.1) scale(1.0,1)" x="0" y="8.59" font-size="24" text-anchor="middle" font-family="'Liberation Sans', Arial, Helvetica, sans-serif" fill="#1e1e1e" stroke="#1e1e1e" stroke-width="0.25">20</text>
<text transform="translate(471.5,2088.9) scale(1.0,1)" x="0" y="8.59" font-size="24" text-anchor="middle" font-family="'Liberation Sans', Arial, Helvetica, sans-serif" fill="#1e1e1e" stroke="#1e1e1e" stroke-width="0.25">30</text>
<text transform="translate(562.2,2054.9) scale(1.0,1)" x="0" y="8.59" font-size="24" text-anchor="middle" font-family="'Liberation Sans', Arial, Helvetica, sans-serif" fill="#1e1e1e" stroke="#1e1e1e" stroke-width="0.25">40</text>
<text transform="translate(652.6,2020.3) scale(1.0,1)" x="0" y="8.59" font-size="24" text-anchor="middle" font-family="'Liberation Sans', Arial, Helvetica, sans-serif" fill="#1e1e1e" stroke="#1e1e1e" stroke-width="0.25">50</text>
<text transform="translate(742.8,1985.6) scale(1.0,1)" x="0" y="8.59" font-size="24" text-anchor="middle" font-family="'Liberation Sans', Arial, Helvetica, sans-serif" fill="#1e1e1e" stroke="#1e1e1e" stroke-width="0.25">60</text>
<text transform="translate(465.4,2154.4) scale(1.0,1)" x="0" y="9.45" font-size="26.4" text-anchor="middle" font-family="'Liberation Sans', Arial, Helvetica, sans-serif" fill="#1e1e1e" stroke="#1e1e1e" stroke-width="0.25">X (mm)</text>
<rect x="853.1" y="1651.0" width="38.5" height="607.9" fill="url(#g8)" stroke="#404040" stroke-width="1" />
<text x="897.5" y="1688.0" font-size="25.5" text-anchor="start" font-family="'Liberation Serif', 'Times New Roman', Times, serif" fill="#000" stroke="#000" stroke-width="0.25" >-6</text>
<text x="897.5" y="1790.3" font-size="25.5" text-anchor="start" font-family="'Liberation Serif', 'Times New Roman', Times, serif" fill="#000" stroke="#000" stroke-width="0.25" >-8</text>
<text x="897.5" y="1894.2" font-size="25.5" text-anchor="start" font-family="'Liberation Serif', 'Times New Roman', Times, serif" fill="#000" stroke="#000" stroke-width="0.25" >-10</text>
<text x="897.5" y="1997.7" font-size="25.5" text-anchor="start" font-family="'Liberation Serif', 'Times New Roman', Times, serif" fill="#000" stroke="#000" stroke-width="0.25" >-12</text>
<text x="897.5" y="2100.4" font-size="25.5" text-anchor="start" font-family="'Liberation Serif', 'Times New Roman', Times, serif" fill="#000" stroke="#000" stroke-width="0.25" >-14</text>
<text x="897.5" y="2203.6" font-size="25.5" text-anchor="start" font-family="'Liberation Serif', 'Times New Roman', Times, serif" fill="#000" stroke="#000" stroke-width="0.25" >-16</text>
<line x1="886.0" y1="1677.5" x2="891.6" y2="1677.5" stroke="#444" stroke-width="1.2" />
<line x1="886.0" y1="1780.5" x2="891.6" y2="1780.5" stroke="#444" stroke-width="1.2" />
<line x1="886.0" y1="1884.0" x2="891.6" y2="1884.0" stroke="#444" stroke-width="1.2" />
<line x1="886.0" y1="1987.5" x2="891.6" y2="1987.5" stroke="#444" stroke-width="1.2" />
<line x1="886.0" y1="2091.0" x2="891.6" y2="2091.0" stroke="#444" stroke-width="1.2" />
<line x1="886.0" y1="2194.5" x2="891.6" y2="2194.5" stroke="#444" stroke-width="1.2" />
<line x1="1098.5" y1="2069.3" x2="1657.9" y2="1853.3" stroke="#e9e9e9" stroke-width="1.4" />
<line x1="1657.9" y1="1853.3" x2="1726.8" y2="1899.0" stroke="#e9e9e9" stroke-width="1.4" />
<line x1="1098.5" y1="2050.1" x2="1657.9" y2="1834.0" stroke="#e9e9e9" stroke-width="1.4" />
<line x1="1657.9" y1="1834.0" x2="1726.8" y2="1879.8" stroke="#e9e9e9" stroke-width="1.4" />
<line x1="1098.5" y1="2030.8" x2="1657.9" y2="1814.8" stroke="#e9e9e9" stroke-width="1.4" />
<line x1="1657.9" y1="1814.8" x2="1726.8" y2="1860.5" stroke="#e9e9e9" stroke-width="1.4" />
<line x1="1098.5" y1="2011.6" x2="1657.9" y2="1795.5" stroke="#e9e9e9" stroke-width="1.4" />
<line x1="1657.9" y1="1795.5" x2="1726.8" y2="1841.2" stroke="#e9e9e9" stroke-width="1.4" />
<line x1="1098.5" y1="1992.3" x2="1657.9" y2="1776.3" stroke="#e9e9e9" stroke-width="1.4" />
<line x1="1657.9" y1="1776.3" x2="1726.8" y2="1822.0" stroke="#e9e9e9" stroke-width="1.4" />
<line x1="1098.5" y1="1973.1" x2="1657.9" y2="1757.0" stroke="#e9e9e9" stroke-width="1.4" />
<line x1="1657.9" y1="1757.0" x2="1726.8" y2="1802.8" stroke="#e9e9e9" stroke-width="1.4" />
<line x1="1151.4" y1="2048.9" x2="1151.4" y2="1934.1" stroke="#e9e9e9" stroke-width="1.4" />
<line x1="1151.4" y1="2048.9" x2="1219.5" y2="2095.9" stroke="#e9e9e9" stroke-width="1.4" />
<line x1="1238.0" y1="2015.5" x2="1238.0" y2="1900.7" stroke="#e9e9e9" stroke-width="1.4" />
<line x1="1238.0" y1="2015.5" x2="1306.3" y2="2062.2" stroke="#e9e9e9" stroke-width="1.4" />
<line x1="1324.6" y1="1982.0" x2="1324.6" y2="1867.2" stroke="#e9e9e9" stroke-width="1.4" />
<line x1="1324.6" y1="1982.0" x2="1393.0" y2="2028.5" stroke="#e9e9e9" stroke-width="1.4" />
<line x1="1411.1" y1="1948.6" x2="1411.1" y2="1833.8" stroke="#e9e9e9" stroke-width="1.4" />
<line x1="1411.1" y1="1948.6" x2="1479.7" y2="1994.9" stroke="#e9e9e9" stroke-width="1.4" />
<line x1="1497.7" y1="1915.1" x2="1497.7" y2="1800.3" stroke="#e9e9e9" stroke-width="1.4" />
<line x1="1497.7" y1="1915.1" x2="1566.4" y2="1961.2" stroke="#e9e9e9" stroke-width="1.4" />
<line x1="1584.3" y1="1881.7" x2="1584.3" y2="1766.9" stroke="#e9e9e9" stroke-width="1.4" />
<line x1="1584.3" y1="1881.7" x2="1653.1" y2="1927.6" stroke="#e9e9e9" stroke-width="1.4" />
<line x1="1671.7" y1="1862.4" x2="1671.7" y2="1747.6" stroke="#e9e9e9" stroke-width="1.4" />
<line x1="1671.7" y1="1862.4" x2="1112.1" y2="2078.7" stroke="#e9e9e9" stroke-width="1.4" />
<line x1="1685.5" y1="1871.6" x2="1685.5" y2="1756.8" stroke="#e9e9e9" stroke-width="1.4" />
<line x1="1685.5" y1="1871.6" x2="1125.7" y2="2088.1" stroke="#e9e9e9" stroke-width="1.4" />
<line x1="1699.2" y1="1880.7" x2="1699.2" y2="1765.9" stroke="#e9e9e9" stroke-width="1.4" />
<line x1="1699.2" y1="1880.7" x2="1139.4" y2="2097.6" stroke="#e9e9e9" stroke-width="1.4" />
<line x1="1713.0" y1="1889.9" x2="1713.0" y2="1775.1" stroke="#e9e9e9" stroke-width="1.4" />
<line x1="1713.0" y1="1889.9" x2="1153.0" y2="2107.0" stroke="#e9e9e9" stroke-width="1.4" />
<line x1="1726.8" y1="1899.0" x2="1726.8" y2="1784.2" stroke="#e9e9e9" stroke-width="1.4" />
<line x1="1726.8" y1="1899.0" x2="1166.6" y2="2116.4" stroke="#e9e9e9" stroke-width="1.4" />
<path d="M1111,1983 L1111.5,1977 Q1113,1974 1117,1973.5 L1350,1879.5 L1366,1873 Q1370,1866 1371.5,1864 Q1374,1868 1376,1874 L1412,1899 L1418,1898.5 L1420.5,1902 L1417,1907 L1409,1908 L1290,1962.8 L1178,2008.5 Q1168,2012 1160,2008 L1130,1988 L1118,1980 Z" fill="#fccb2f" stroke="none" stroke-width="0" />
<path d="M1111.5,1981 L1112,1977 Q1113,1974 1117,1973.5 L1366,1873 L1368,1876.5 L1122,1978 Z" fill="#f7b93a" stroke="none" stroke-width="0" />
<path d="M1366,1970.5 Q1366,1966 1371,1967 L1378,1968.5 L1658,1848.5 Q1662,1846.5 1665,1850 L1702,1877.5 Q1709,1880 1714,1875.5 Q1716,1880 1713,1885 Q1708,1892 1700,1891 L1432,2000 Q1422,2004 1413,2000 L1392,1986 Q1376,1974 1366,1970.5 Z" fill="#3f36d2" stroke="none" stroke-width="0" />
<line x1="1098.5" y1="2069.8" x2="1098.5" y2="1954.5" stroke="#454545" stroke-width="1.9" />
<line x1="1098.5" y1="2069.3" x2="1166.6" y2="2116.4" stroke="#454545" stroke-width="1.9" />
<line x1="1166.6" y1="2116.4" x2="1726.8" y2="1899.0" stroke="#454545" stroke-width="1.9" />
<line x1="1098.5" y1="2069.3" x2="1088.6" y2="2062.4" stroke="#454545" stroke-width="1.9" />
<line x1="1098.5" y1="2050.1" x2="1088.6" y2="2043.2" stroke="#454545" stroke-width="1.9" />
<line x1="1098.5" y1="2030.8" x2="1088.6" y2="2023.9" stroke="#454545" stroke-width="1.9" />
<line x1="1098.5" y1="2011.6" x2="1088.6" y2="2004.7" stroke="#454545" stroke-width="1.9" />
<line x1="1098.5" y1="1992.3" x2="1088.6" y2="1985.4" stroke="#454545" stroke-width="1.9" />
<line x1="1098.5" y1="1973.1" x2="1088.6" y2="1966.2" stroke="#454545" stroke-width="1.9" />
<line x1="1112.1" y1="2078.7" x2="1098.2" y2="2083.1" stroke="#454545" stroke-width="1.9" />
<line x1="1125.7" y1="2088.1" x2="1111.8" y2="2092.5" stroke="#454545" stroke-width="1.9" />
<line x1="1139.4" y1="2097.6" x2="1125.5" y2="2102.0" stroke="#454545" stroke-width="1.9" />
<line x1="1153.0" y1="2107.0" x2="1139.1" y2="2111.4" stroke="#454545" stroke-width="1.9" />
<line x1="1166.6" y1="2116.4" x2="1152.7" y2="2120.8" stroke="#454545" stroke-width="1.9" />
<line x1="1219.5" y1="2095.9" x2="1232.5" y2="2105.5" stroke="#454545" stroke-width="1.9" />
<line x1="1306.3" y1="2062.2" x2="1319.3" y2="2071.8" stroke="#454545" stroke-width="1.9" />
<line x1="1393.0" y1="2028.5" x2="1406.0" y2="2038.1" stroke="#454545" stroke-width="1.9" />
<line x1="1479.7" y1="1994.9" x2="1492.7" y2="2004.5" stroke="#454545" stroke-width="1.9" />
<line x1="1566.4" y1="1961.2" x2="1579.4" y2="1970.8" stroke="#454545" stroke-width="1.9" />
<line x1="1653.1" y1="1927.6" x2="1666.1" y2="1937.2" stroke="#454545" stroke-width="1.9" />
<polygon points="1364.3,1845.8 1442.4,1892.9 1424.4,1922.3 1346.4,1875.2" fill="none" stroke="#f80808" stroke-width="4.4" />
<line x1="1381.4" y1="1851.4" x2="1487.6" y2="1785.1" stroke="#f80808" stroke-width="4.3" />
<polygon points="1495.2,1780.3 1488.8,1790.8 1483.0,1781.5" fill="#f80808" stroke="none" stroke-width="0" />
<rect x="1502.0" y="1606.0" width="178.0" height="138.0" fill="#fff" stroke="none" stroke-width="0" />
<line x1="1509.8" y1="1610.4" x2="1509.8" y2="1742.8" stroke="#e6e6e6" stroke-width="1.1" />
<line x1="1544.0" y1="1610.4" x2="1544.0" y2="1742.8" stroke="#e6e6e6" stroke-width="1.1" />
<line x1="1576.0" y1="1610.4" x2="1576.0" y2="1742.8" stroke="#e6e6e6" stroke-width="1.1" />
<line x1="1610.2" y1="1610.4" x2="1610.2" y2="1742.8" stroke="#e6e6e6" stroke-width="1.1" />
<line x1="1643.0" y1="1610.4" x2="1643.0" y2="1742.8" stroke="#e6e6e6" stroke-width="1.1" />
<line x1="1508.0" y1="1695.5" x2="1676.0" y2="1695.5" stroke="#e6e6e6" stroke-width="1.1" />
<polygon points="1534.6,1616.9 1530.2,1623.5 1527.3,1629.3 1522.2,1648.2 1520.7,1677.3 1522.9,1706.4 1525.8,1697.7 1530.2,1688.2 1549.8,1687.8 1567.3,1691.8 1587.7,1693.6 1591.3,1689.2 1625.5,1690.4 1654.6,1692.1 1661.1,1684.6 1664.8,1671.5 1666.5,1648.2 1664.5,1617.6 1660.4,1632.2 1654.6,1640.9 1647.3,1644.1 1625.5,1640.2 1567.3,1637.7 1550.6,1638.0 1544.7,1625.6 1539.7,1617.6" fill="#fbcc30" stroke="none" stroke-width="0" />
<ellipse cx="1537.5" cy="1676.9" rx="24.2" ry="46.6" fill="none" stroke="#f80808" stroke-width="2.8" />
<ellipse cx="1656.8" cy="1657.7" rx="24.2" ry="47.6" fill="none" stroke="#f80808" stroke-width="2.8" />
<rect x="1496.3" y="1603.4" width="184.9" height="175.7" fill="none" stroke="#f80808" stroke-width="4.3" />
<text x="1042.5" y="1963.8" font-size="25.5" text-anchor="start" font-family="'Liberation Serif', 'Times New Roman', Times, serif" fill="#000" stroke="#000" stroke-width="0.25" >-8</text>
<text x="1042.5" y="1986.4" font-size="25.5" text-anchor="start" font-family="'Liberation Serif', 'Times New Roman', Times, serif" fill="#000" stroke="#000" stroke-width="0.25" >-10</text>
<text x="1042.5" y="2004.8" font-size="25.5" text-anchor="start" font-family="'Liberation Serif', 'Times New Roman', Times, serif" fill="#000" stroke="#000" stroke-width="0.25" >-12</text>
<text x="1042.5" y="2024.8" font-size="25.5" text-anchor="start" font-family="'Liberation Serif', 'Times New Roman', Times, serif" fill="#000" stroke="#000" stroke-width="0.25" >-14</text>
<text x="1042.5" y="2046.8" font-size="25.5" text-anchor="start" font-family="'Liberation Serif', 'Times New Roman', Times, serif" fill="#000" stroke="#000" stroke-width="0.25" >-16</text>
<text x="1042.5" y="2068.8" font-size="25.5" text-anchor="start" font-family="'Liberation Serif', 'Times New Roman', Times, serif" fill="#000" stroke="#000" stroke-width="0.25" >-18</text>
<text transform="translate(1019.9,2013.6) rotate(-90) scale(1.0,1)" x="0" y="9.24" font-size="25.8" text-anchor="middle" font-family="'Liberation Sans', Arial, Helvetica, sans-serif" fill="#1e1e1e" stroke="#1e1e1e" stroke-width="0.25">Z (mm)</text>
<text transform="translate(1088.7,2112.1) scale(1.0,1)" x="0" y="8.23" font-size="23" text-anchor="middle" font-family="'Liberation Sans', Arial, Helvetica, sans-serif" fill="#1e1e1e" stroke="#1e1e1e" stroke-width="0.25">24</text>
<text transform="translate(1115.4,2129.3) scale(1.0,1)" x="0" y="8.23" font-size="23" text-anchor="middle" font-family="'Liberation Sans', Arial, Helvetica, sans-serif" fill="#1e1e1e" stroke="#1e1e1e" stroke-width="0.25">20</text>
<text transform="translate(1041.6,2168.0) scale(1.0,1)" x="0" y="9.06" font-size="25.3" text-anchor="middle" font-family="'Liberation Sans', Arial, Helvetica, sans-serif" fill="#1e1e1e" stroke="#1e1e1e" stroke-width="0.25">Y (mm)</text>
<text transform="translate(1253.5,2125.4) scale(1.0,1)" x="0" y="8.23" font-size="23" text-anchor="middle" font-family="'Liberation Sans', Arial, Helvetica, sans-serif" fill="#1e1e1e" stroke="#1e1e1e" stroke-width="0.25">10</text>
<text transform="translate(1340.1,2091.4) scale(1.0,1)" x="0" y="8.23" font-size="23" text-anchor="middle" font-family="'Liberation Sans', Arial, Helvetica, sans-serif" fill="#1e1e1e" stroke="#1e1e1e" stroke-width="0.25">20</text>
<text transform="translate(1426.7,2057.4) scale(1.0,1)" x="0" y="8.23" font-size="23" text-anchor="middle" font-family="'Liberation Sans', Arial, Helvetica, sans-serif" fill="#1e1e1e" stroke="#1e1e1e" stroke-width="0.25">30</text>
<text transform="translate(1513.0,2024.4) scale(1.0,1)" x="0" y="8.23" font-size="23" text-anchor="middle" font-family="'Liberation Sans', Arial, Helvetica, sans-serif" fill="#1e1e1e" stroke="#1e1e1e" stroke-width="0.25">40</text>
<text transform="translate(1599.9,1990.7) scale(1.0,1)" x="0" y="8.23" font-size="23" text-anchor="middle" font-family="'Liberation Sans', Arial, Helvetica, sans-serif" fill="#1e1e1e" stroke="#1e1e1e" stroke-width="0.25">50</text>
<text transform="translate(1686.4,1957.3) scale(1.0,1)" x="0" y="8.23" font-size="23" text-anchor="middle" font-family="'Liberation Sans', Arial, Helvetica, sans-serif" fill="#1e1e1e" stroke="#1e1e1e" stroke-width="0.25">60</text>
<text transform="translate(1416.8,2122.8) scale(1.0,1)" x="0" y="9.06" font-size="25.3" text-anchor="middle" font-family="'Liberation Sans', Arial, Helvetica, sans-serif" fill="#1e1e1e" stroke="#1e1e1e" stroke-width="0.25">X (mm)</text>
<rect x="1791.6" y="1630.9" width="37.8" height="591.8" fill="url(#g9)" stroke="#404040" stroke-width="1" />
<text x="1835.5" y="1735.6" font-size="25.5" text-anchor="start" font-family="'Liberation Serif', 'Times New Roman', Times, serif" fill="#000" stroke="#000" stroke-width="0.25" >-8</text>
<text x="1835.5" y="1833.2" font-size="25.5" text-anchor="start" font-family="'Liberation Serif', 'Times New Roman', Times, serif" fill="#000" stroke="#000" stroke-width="0.25" >-10</text>
<text x="1835.5" y="1931.4" font-size="25.5" text-anchor="start" font-family="'Liberation Serif', 'Times New Roman', Times, serif" fill="#000" stroke="#000" stroke-width="0.25" >-12</text>
<text x="1835.5" y="2029.8" font-size="25.5" text-anchor="start" font-family="'Liberation Serif', 'Times New Roman', Times, serif" fill="#000" stroke="#000" stroke-width="0.25" >-14</text>
<text x="1835.5" y="2128.1" font-size="25.5" text-anchor="start" font-family="'Liberation Serif', 'Times New Roman', Times, serif" fill="#000" stroke="#000" stroke-width="0.25" >-16</text>
<text x="1835.5" y="2226.3" font-size="25.5" text-anchor="start" font-family="'Liberation Serif', 'Times New Roman', Times, serif" fill="#000" stroke="#000" stroke-width="0.25" >-18</text>
<line x1="1824.0" y1="1725.5" x2="1829.4" y2="1725.5" stroke="#444" stroke-width="1.2" />
<line x1="1824.0" y1="1823.5" x2="1829.4" y2="1823.5" stroke="#444" stroke-width="1.2" />
<line x1="1824.0" y1="1921.5" x2="1829.4" y2="1921.5" stroke="#444" stroke-width="1.2" />
<line x1="1824.0" y1="2019.5" x2="1829.4" y2="2019.5" stroke="#444" stroke-width="1.2" />
<line x1="1824.0" y1="2117.5" x2="1829.4" y2="2117.5" stroke="#444" stroke-width="1.2" />
<line x1="1824.0" y1="2215.5" x2="1829.4" y2="2215.5" stroke="#444" stroke-width="1.2" />
<g clip-path="url(#clipg)">
<text x="109.6" y="2307.0" font-size="23.5" text-anchor="middle" font-family="'Liberation Sans', Arial, Helvetica, sans-serif" fill="#303030" stroke="#303030" stroke-width="0.2" >0</text>
<text x="245.2" y="2307.0" font-size="23.5" text-anchor="middle" font-family="'Liberation Sans', Arial, Helvetica, sans-serif" fill="#303030" stroke="#303030" stroke-width="0.2" >500</text>
<text x="380.8" y="2307.0" font-size="23.5" text-anchor="middle" font-family="'Liberation Sans', Arial, Helvetica, sans-serif" fill="#303030" stroke="#303030" stroke-width="0.2" >1000</text>
<text x="516.4" y="2307.0" font-size="23.5" text-anchor="middle" font-family="'Liberation Sans', Arial, Helvetica, sans-serif" fill="#303030" stroke="#303030" stroke-width="0.2" >1500</text>
<text x="652.0" y="2307.0" font-size="23.5" text-anchor="middle" font-family="'Liberation Sans', Arial, Helvetica, sans-serif" fill="#303030" stroke="#303030" stroke-width="0.2" >2000</text>
<text x="787.6" y="2307.0" font-size="23.5" text-anchor="middle" font-family="'Liberation Sans', Arial, Helvetica, sans-serif" fill="#303030" stroke="#303030" stroke-width="0.2" >2500</text>
</g>
<line x1="109.6" y1="2952.3" x2="787.7" y2="2952.3" stroke="#e4e4e4" stroke-width="1.4" />
<line x1="787.7" y1="2320.9" x2="787.7" y2="2952.3" stroke="#e4e4e4" stroke-width="1.4" />
<line x1="245.2" y1="2320.9" x2="245.2" y2="2952.3" stroke="#e4e4e4" stroke-width="1.3" />
<line x1="109.6" y1="2447.2" x2="787.7" y2="2447.2" stroke="#e4e4e4" stroke-width="1.3" />
<line x1="380.8" y1="2320.9" x2="380.8" y2="2952.3" stroke="#e4e4e4" stroke-width="1.3" />
<line x1="109.6" y1="2573.5" x2="787.7" y2="2573.5" stroke="#e4e4e4" stroke-width="1.3" />
<line x1="516.4" y1="2320.9" x2="516.4" y2="2952.3" stroke="#e4e4e4" stroke-width="1.3" />
<line x1="109.6" y1="2699.8" x2="787.7" y2="2699.8" stroke="#e4e4e4" stroke-width="1.3" />
<line x1="652.0" y1="2320.9" x2="652.0" y2="2952.3" stroke="#e4e4e4" stroke-width="1.3" />
<line x1="109.6" y1="2826.1" x2="787.7" y2="2826.1" stroke="#e4e4e4" stroke-width="1.3" />
<line x1="109.6" y1="2320.9" x2="109.6" y2="2952.3" stroke="#454545" stroke-width="1.5" />
<line x1="109.6" y1="2320.9" x2="787.7" y2="2320.9" stroke="#454545" stroke-width="1.5" />
<line x1="109.6" y1="2952.3" x2="116.6" y2="2952.3" stroke="#454545" stroke-width="1.5" />
<line x1="787.7" y1="2320.9" x2="787.7" y2="2327.9" stroke="#454545" stroke-width="1.5" />
<rect x="109.6" y="2320.9" width="664.6" height="517.7" fill="#0a0000" stroke="none" stroke-width="0" />
<text x="478.5" y="2370.0" font-size="41.5" text-anchor="middle" font-family="'Liberation Sans', Arial, Helvetica, sans-serif" fill="#040000" stroke="#040000" stroke-width="0.2" >overlapping</text>
<rect x="519.0" y="2614.0" width="12.0" height="40.0" fill="#2c0000" stroke="none" stroke-width="0" />
<polygon points="384.1,2614.3 516.9,2613.5 517.2,2650.5 384.3,2651.8" fill="url(#g10)" stroke="none" stroke-width="0" />
<g filter="url(#bl)" fill="#ffd838" opacity="0.85"><ellipse cx="404" cy="2622" rx="7" ry="3.5"/><ellipse cx="392" cy="2637" rx="4" ry="7"/><ellipse cx="412" cy="2643" rx="6" ry="3"/><ellipse cx="398" cy="2629" rx="3" ry="3"/></g>
<polygon points="532.7,2616.5 686.9,2616.9 686.9,2654.2 532.9,2653.6" fill="url(#g11)" stroke="none" stroke-width="0" />
<text x="99.6" y="2332.0" font-size="23.5" text-anchor="end" font-family="'Liberation Sans', Arial, Helvetica, sans-serif" fill="#303030" stroke="#303030" stroke-width="0.2" >0</text>
<text x="99.6" y="2458.1" font-size="23.5" text-anchor="end" font-family="'Liberation Sans', Arial, Helvetica, sans-serif" fill="#303030" stroke="#303030" stroke-width="0.2" >500</text>
<text x="99.6" y="2584.2" font-size="23.5" text-anchor="end" font-family="'Liberation Sans', Arial, Helvetica, sans-serif" fill="#303030" stroke="#303030" stroke-width="0.2" >1000</text>
<text x="99.6" y="2710.3" font-size="23.5" text-anchor="end" font-family="'Liberation Sans', Arial, Helvetica, sans-serif" fill="#303030" stroke="#303030" stroke-width="0.2" >1500</text>
<text x="99.6" y="2836.4" font-size="23.5" text-anchor="end" font-family="'Liberation Sans', Arial, Helvetica, sans-serif" fill="#303030" stroke="#303030" stroke-width="0.2" >2000</text>
<text x="99.6" y="2962.5" font-size="23.5" text-anchor="end" font-family="'Liberation Sans', Arial, Helvetica, sans-serif" fill="#303030" stroke="#303030" stroke-width="0.2" >2500</text>
<rect x="856.3" y="2320.9" width="40.0" height="631.4" fill="url(#g12)" stroke="#404040" stroke-width="1" />
<text x="904.5" y="2350.1" font-size="21.8" text-anchor="start" font-family="'Liberation Sans', Arial, Helvetica, sans-serif" fill="#333" stroke="#333" stroke-width="0.2" >0.7</text>
<text x="904.5" y="2437.6" font-size="21.8" text-anchor="start" font-family="'Liberation Sans', Arial, Helvetica, sans-serif" fill="#333" stroke="#333" stroke-width="0.2" >0.6</text>
<text x="904.5" y="2524.8" font-size="21.8" text-anchor="start" font-family="'Liberation Sans', Arial, Helvetica, sans-serif" fill="#333" stroke="#333" stroke-width="0.2" >0.5</text>
<text x="904.5" y="2612.0" font-size="21.8" text-anchor="start" font-family="'Liberation Sans', Arial, Helvetica, sans-serif" fill="#333" stroke="#333" stroke-width="0.2" >0.4</text>
<text x="904.5" y="2698.7" font-size="21.8" text-anchor="start" font-family="'Liberation Sans', Arial, Helvetica, sans-serif" fill="#333" stroke="#333" stroke-width="0.2" >0.3</text>
<text x="904.5" y="2786.2" font-size="21.8" text-anchor="start" font-family="'Liberation Sans', Arial, Helvetica, sans-serif" fill="#333" stroke="#333" stroke-width="0.2" >0.2</text>
<text x="904.5" y="2873.5" font-size="21.8" text-anchor="start" font-family="'Liberation Sans', Arial, Helvetica, sans-serif" fill="#333" stroke="#333" stroke-width="0.2" >0.1</text>
<text x="904.5" y="2960.7" font-size="21.8" text-anchor="start" font-family="'Liberation Sans', Arial, Helvetica, sans-serif" fill="#333" stroke="#333" stroke-width="0.2" >0</text>
<line x1="890.5" y1="2340.5" x2="896.3" y2="2340.5" stroke="#333" stroke-width="1.2" />
<line x1="890.5" y1="2428.0" x2="896.3" y2="2428.0" stroke="#333" stroke-width="1.2" />
<line x1="890.5" y1="2515.2" x2="896.3" y2="2515.2" stroke="#333" stroke-width="1.2" />
<line x1="890.5" y1="2602.4" x2="896.3" y2="2602.4" stroke="#333" stroke-width="1.2" />
<line x1="890.5" y1="2689.1" x2="896.3" y2="2689.1" stroke="#333" stroke-width="1.2" />
<line x1="890.5" y1="2776.6" x2="896.3" y2="2776.6" stroke="#333" stroke-width="1.2" />
<line x1="890.5" y1="2863.9" x2="896.3" y2="2863.9" stroke="#333" stroke-width="1.2" />
<line x1="1063.9" y1="2669.8" x2="1635.4" y2="2427.2" stroke="#e9e9e9" stroke-width="1.4" />
<line x1="1635.4" y1="2427.2" x2="1726.0" y2="2467.6" stroke="#e9e9e9" stroke-width="1.4" />
<line x1="1063.9" y1="2692.1" x2="1635.4" y2="2449.5" stroke="#e9e9e9" stroke-width="1.4" />
<line x1="1635.4" y1="2449.5" x2="1726.0" y2="2489.9" stroke="#e9e9e9" stroke-width="1.4" />
<line x1="1063.9" y1="2714.4" x2="1635.4" y2="2471.8" stroke="#e9e9e9" stroke-width="1.4" />
<line x1="1635.4" y1="2471.8" x2="1726.0" y2="2512.2" stroke="#e9e9e9" stroke-width="1.4" />
<line x1="1063.9" y1="2736.7" x2="1635.4" y2="2494.1" stroke="#e9e9e9" stroke-width="1.4" />
<line x1="1635.4" y1="2494.1" x2="1726.0" y2="2534.5" stroke="#e9e9e9" stroke-width="1.4" />
<line x1="1063.9" y1="2759.0" x2="1635.4" y2="2516.4" stroke="#e9e9e9" stroke-width="1.4" />
<line x1="1635.4" y1="2516.4" x2="1726.0" y2="2556.8" stroke="#e9e9e9" stroke-width="1.4" />
<line x1="1063.9" y1="2772.8" x2="1635.4" y2="2530.2" stroke="#e9e9e9" stroke-width="1.4" />
<line x1="1635.4" y1="2530.2" x2="1726.0" y2="2570.6" stroke="#e9e9e9" stroke-width="1.4" />
<line x1="1112.9" y1="2752.0" x2="1112.9" y2="2630.7" stroke="#e9e9e9" stroke-width="1.4" />
<line x1="1112.9" y1="2752.0" x2="1203.9" y2="2792.7" stroke="#e9e9e9" stroke-width="1.4" />
<line x1="1201.6" y1="2714.3" x2="1201.6" y2="2593.0" stroke="#e9e9e9" stroke-width="1.4" />
<line x1="1201.6" y1="2714.3" x2="1292.5" y2="2755.0" stroke="#e9e9e9" stroke-width="1.4" />
<line x1="1290.3" y1="2676.7" x2="1290.3" y2="2555.4" stroke="#e9e9e9" stroke-width="1.4" />
<line x1="1290.3" y1="2676.7" x2="1381.2" y2="2717.3" stroke="#e9e9e9" stroke-width="1.4" />
<line x1="1379.0" y1="2639.0" x2="1379.0" y2="2517.7" stroke="#e9e9e9" stroke-width="1.4" />
<line x1="1379.0" y1="2639.0" x2="1469.8" y2="2679.6" stroke="#e9e9e9" stroke-width="1.4" />
<line x1="1467.7" y1="2601.4" x2="1467.7" y2="2480.1" stroke="#e9e9e9" stroke-width="1.4" />
<line x1="1467.7" y1="2601.4" x2="1558.4" y2="2641.9" stroke="#e9e9e9" stroke-width="1.4" />
<line x1="1556.4" y1="2563.7" x2="1556.4" y2="2442.4" stroke="#e9e9e9" stroke-width="1.4" />
<line x1="1556.4" y1="2563.7" x2="1647.1" y2="2604.2" stroke="#e9e9e9" stroke-width="1.4" />
<line x1="1635.4" y1="2530.2" x2="1635.4" y2="2408.9" stroke="#e9e9e9" stroke-width="1.4" />
<line x1="1635.4" y1="2530.2" x2="1726.0" y2="2570.6" stroke="#e9e9e9" stroke-width="1.4" />
<line x1="1635.4" y1="2530.2" x2="1635.4" y2="2408.9" stroke="#e9e9e9" stroke-width="1.4" />
<line x1="1635.4" y1="2530.2" x2="1063.9" y2="2772.8" stroke="#e9e9e9" stroke-width="1.4" />
<line x1="1652.6" y1="2537.9" x2="1652.6" y2="2416.6" stroke="#e9e9e9" stroke-width="1.4" />
<line x1="1652.6" y1="2537.9" x2="1081.2" y2="2780.5" stroke="#e9e9e9" stroke-width="1.4" />
<line x1="1669.8" y1="2545.6" x2="1669.8" y2="2424.3" stroke="#e9e9e9" stroke-width="1.4" />
<line x1="1669.8" y1="2545.6" x2="1098.5" y2="2788.3" stroke="#e9e9e9" stroke-width="1.4" />
<line x1="1687.0" y1="2553.2" x2="1687.0" y2="2431.9" stroke="#e9e9e9" stroke-width="1.4" />
<line x1="1687.0" y1="2553.2" x2="1115.8" y2="2796.0" stroke="#e9e9e9" stroke-width="1.4" />
<line x1="1704.3" y1="2560.9" x2="1704.3" y2="2439.6" stroke="#e9e9e9" stroke-width="1.4" />
<line x1="1704.3" y1="2560.9" x2="1133.1" y2="2803.7" stroke="#e9e9e9" stroke-width="1.4" />
<line x1="1721.9" y1="2568.8" x2="1721.9" y2="2447.5" stroke="#e9e9e9" stroke-width="1.4" />
<line x1="1721.9" y1="2568.8" x2="1150.8" y2="2811.7" stroke="#e9e9e9" stroke-width="1.4" />
<path d="M1078.5,2660 Q1079,2657.5 1083,2658.5 L1321,2554.5 L1396.5,2588 L1166,2694.5 Q1159,2697.5 1152,2695 L1126,2683 Q1117,2678 1108,2677.5 L1092,2669 Z" fill="#f2ea26" stroke="none" stroke-width="0" />
<path d="M1340.5,2650 Q1342,2648 1345,2652 Q1348,2654 1352,2652 L1625,2520.5 Q1628,2518.5 1631,2520.5 L1705,2556 Q1708,2558 1705.5,2560.5 L1702,2560 L1430,2688 Q1423,2691 1416,2688.5 L1378,2674 Q1352,2664 1340.5,2650 Z" fill="#4038d6" stroke="none" stroke-width="0" />
<line x1="1633.0" y1="2522.5" x2="1704.0" y2="2558.0" stroke="#3a30c0" stroke-width="2" />
<line x1="1063.9" y1="2773.3" x2="1063.9" y2="2651.5" stroke="#454545" stroke-width="1.9" />
<line x1="1063.9" y1="2772.8" x2="1154.9" y2="2813.5" stroke="#454545" stroke-width="1.9" />
<line x1="1154.9" y1="2813.5" x2="1726.0" y2="2570.6" stroke="#454545" stroke-width="1.9" />
<line x1="1063.9" y1="2669.8" x2="1048.9" y2="2662.8" stroke="#454545" stroke-width="1.9" />
<line x1="1063.9" y1="2692.1" x2="1048.9" y2="2685.1" stroke="#454545" stroke-width="1.9" />
<line x1="1063.9" y1="2714.4" x2="1048.9" y2="2707.4" stroke="#454545" stroke-width="1.9" />
<line x1="1063.9" y1="2736.7" x2="1048.9" y2="2729.7" stroke="#454545" stroke-width="1.9" />
<line x1="1063.9" y1="2759.0" x2="1048.9" y2="2752.0" stroke="#454545" stroke-width="1.9" />
<line x1="1063.9" y1="2772.8" x2="1049.0" y2="2778.2" stroke="#454545" stroke-width="1.9" />
<line x1="1082.1" y1="2780.9" x2="1067.2" y2="2786.3" stroke="#454545" stroke-width="1.9" />
<line x1="1100.3" y1="2789.1" x2="1085.4" y2="2794.5" stroke="#454545" stroke-width="1.9" />
<line x1="1118.5" y1="2797.2" x2="1103.6" y2="2802.6" stroke="#454545" stroke-width="1.9" />
<line x1="1136.7" y1="2805.4" x2="1121.8" y2="2810.8" stroke="#454545" stroke-width="1.9" />
<line x1="1154.9" y1="2813.5" x2="1140.0" y2="2818.9" stroke="#454545" stroke-width="1.9" />
<line x1="1203.9" y1="2792.7" x2="1217.8" y2="2800.7" stroke="#454545" stroke-width="1.9" />
<line x1="1292.5" y1="2755.0" x2="1306.4" y2="2763.0" stroke="#454545" stroke-width="1.9" />
<line x1="1381.2" y1="2717.3" x2="1395.1" y2="2725.3" stroke="#454545" stroke-width="1.9" />
<line x1="1469.8" y1="2679.6" x2="1483.7" y2="2687.6" stroke="#454545" stroke-width="1.9" />
<line x1="1558.4" y1="2641.9" x2="1572.3" y2="2649.9" stroke="#454545" stroke-width="1.9" />
<line x1="1647.1" y1="2604.2" x2="1661.0" y2="2612.2" stroke="#454545" stroke-width="1.9" />
<rect x="1317.0" y="2542.7" width="103.1" height="154.9" fill="none" stroke="#f80808" stroke-width="4.4" />
<line x1="1369.3" y1="2541.5" x2="1479.0" y2="2447.1" stroke="#f80808" stroke-width="4.3" />
<polygon points="1485.8,2441.2 1481.1,2452.5 1473.9,2444.2" fill="#f80808" stroke="none" stroke-width="0" />
<rect x="1490.0" y="2288.0" width="157.0" height="172.0" fill="#fff" stroke="none" stroke-width="0" />
<line x1="1568.0" y1="2302.0" x2="1641.0" y2="2298.0" stroke="#e6e6e6" stroke-width="1.1" />
<line x1="1570.0" y1="2320.0" x2="1641.0" y2="2315.0" stroke="#e6e6e6" stroke-width="1.1" />
<line x1="1572.0" y1="2338.0" x2="1641.0" y2="2333.0" stroke="#e6e6e6" stroke-width="1.1" />
<line x1="1574.0" y1="2356.0" x2="1641.0" y2="2351.0" stroke="#e6e6e6" stroke-width="1.1" />
<line x1="1576.0" y1="2374.0" x2="1641.0" y2="2369.0" stroke="#e6e6e6" stroke-width="1.1" />
<line x1="1497.0" y1="2378.0" x2="1582.0" y2="2374.0" stroke="#e6e6e6" stroke-width="1.1" />
<line x1="1497.0" y1="2392.0" x2="1588.0" y2="2388.0" stroke="#e6e6e6" stroke-width="1.1" />
<line x1="1497.0" y1="2408.0" x2="1590.0" y2="2403.0" stroke="#e6e6e6" stroke-width="1.1" />
<line x1="1497.0" y1="2424.0" x2="1594.0" y2="2418.0" stroke="#e6e6e6" stroke-width="1.1" />
<line x1="1497.0" y1="2440.0" x2="1600.0" y2="2434.0" stroke="#e6e6e6" stroke-width="1.1" />
<line x1="1497.0" y1="2456.0" x2="1606.0" y2="2450.0" stroke="#e6e6e6" stroke-width="1.1" />
<path d="M1515,2295 Q1519,2380 1532,2459" fill="none" stroke="#e2e2e2" stroke-width="1.1" />
<polygon points="1497.1,2302.4 1528.2,2300.7 1549.4,2301.7 1554.7,2308.4 1562.6,2354.7 1565.2,2363.3 1544.1,2368.5 1497.8,2372.9" fill="#f3ec24" stroke="none" stroke-width="0" />
<polygon points="1584.0,2384.4 1589.0,2386.4 1606.2,2387.1 1638.0,2382.7 1638.3,2452.5 1615.5,2455.2 1607.6,2453.9 1601.0,2447.2 1593.0,2422.1 1585.1,2393.0" fill="#4034c8" stroke="none" stroke-width="0" />
<ellipse cx="1542.4" cy="2338.8" rx="25.6" ry="40.4" fill="none" stroke="#f80808" stroke-width="2.9" />
<ellipse cx="1588.1" cy="2416.8" rx="25.6" ry="40.4" fill="none" stroke="#f80808" stroke-width="2.9" />
<rect x="1486.6" y="2285.2" width="163.7" height="187.6" fill="none" stroke="#f80808" stroke-width="4.4" />
<text transform="translate(1040.3,2660.4) scale(1.0,1)" x="0" y="8.59" font-size="24" text-anchor="end" font-family="'Liberation Sans', Arial, Helvetica, sans-serif" fill="#1e1e1e" stroke="#1e1e1e" stroke-width="0.25">-8</text>
<text transform="translate(1040.3,2682.9) scale(1.0,1)" x="0" y="8.59" font-size="24" text-anchor="end" font-family="'Liberation Sans', Arial, Helvetica, sans-serif" fill="#1e1e1e" stroke="#1e1e1e" stroke-width="0.25">-10</text>
<text transform="translate(1040.3,2705.6) scale(1.0,1)" x="0" y="8.59" font-size="24" text-anchor="end" font-family="'Liberation Sans', Arial, Helvetica, sans-serif" fill="#1e1e1e" stroke="#1e1e1e" stroke-width="0.25">-12</text>
<text transform="translate(1040.3,2728.4) scale(1.0,1)" x="0" y="8.59" font-size="24" text-anchor="end" font-family="'Liberation Sans', Arial, Helvetica, sans-serif" fill="#1e1e1e" stroke="#1e1e1e" stroke-width="0.25">-14</text>
<text transform="translate(1040.3,2750.9) scale(1.0,1)" x="0" y="8.59" font-size="24" text-anchor="end" font-family="'Liberation Sans', Arial, Helvetica, sans-serif" fill="#1e1e1e" stroke="#1e1e1e" stroke-width="0.25">-16</text>
<text transform="translate(981.8,2711.8) rotate(-90) scale(1.0,1)" x="0" y="9.45" font-size="26.4" text-anchor="middle" font-family="'Liberation Sans', Arial, Helvetica, sans-serif" fill="#1e1e1e" stroke="#1e1e1e" stroke-width="0.25">Z (mm)</text>
<text transform="translate(1027.5,2799.6) scale(1.0,1)" x="0" y="8.59" font-size="24" text-anchor="middle" font-family="'Liberation Sans', Arial, Helvetica, sans-serif" fill="#1e1e1e" stroke="#1e1e1e" stroke-width="0.25">28</text>
<text transform="translate(1062.2,2814.8) scale(1.0,1)" x="0" y="8.59" font-size="24" text-anchor="middle" font-family="'Liberation Sans', Arial, Helvetica, sans-serif" fill="#1e1e1e" stroke="#1e1e1e" stroke-width="0.25">24</text>
<text transform="translate(1096.6,2830.3) scale(1.0,1)" x="0" y="8.59" font-size="24" text-anchor="middle" font-family="'Liberation Sans', Arial, Helvetica, sans-serif" fill="#1e1e1e" stroke="#1e1e1e" stroke-width="0.25">20</text>
<text transform="translate(1018.0,2868.0) scale(1.0,1)" x="0" y="9.45" font-size="26.4" text-anchor="middle" font-family="'Liberation Sans', Arial, Helvetica, sans-serif" fill="#1e1e1e" stroke="#1e1e1e" stroke-width="0.25">Y (mm)</text>
<text transform="translate(1240.6,2819.6) scale(1.0,1)" x="0" y="8.59" font-size="24" text-anchor="middle" font-family="'Liberation Sans', Arial, Helvetica, sans-serif" fill="#1e1e1e" stroke="#1e1e1e" stroke-width="0.25">10</text>
<text transform="translate(1329.1,2782.0) scale(1.0,1)" x="0" y="8.59" font-size="24" text-anchor="middle" font-family="'Liberation Sans', Arial, Helvetica, sans-serif" fill="#1e1e1e" stroke="#1e1e1e" stroke-width="0.25">20</text>
<text transform="translate(1417.8,2744.2) scale(1.0,1)" x="0" y="8.59" font-size="24" text-anchor="middle" font-family="'Liberation Sans', Arial, Helvetica, sans-serif" fill="#1e1e1e" stroke="#1e1e1e" stroke-width="0.25">30</text>
<text transform="translate(1507.1,2705.4) scale(1.0,1)" x="0" y="8.59" font-size="24" text-anchor="middle" font-family="'Liberation Sans', Arial, Helvetica, sans-serif" fill="#1e1e1e" stroke="#1e1e1e" stroke-width="0.25">40</text>
<text transform="translate(1596.1,2667.7) scale(1.0,1)" x="0" y="8.59" font-size="24" text-anchor="middle" font-family="'Liberation Sans', Arial, Helvetica, sans-serif" fill="#1e1e1e" stroke="#1e1e1e" stroke-width="0.25">50</text>
<text transform="translate(1685.0,2629.9) scale(1.0,1)" x="0" y="8.59" font-size="24" text-anchor="middle" font-family="'Liberation Sans', Arial, Helvetica, sans-serif" fill="#1e1e1e" stroke="#1e1e1e" stroke-width="0.25">60</text>
<text transform="translate(1412.4,2815.2) scale(1.0,1)" x="0" y="9.45" font-size="26.4" text-anchor="middle" font-family="'Liberation Sans', Arial, Helvetica, sans-serif" fill="#1e1e1e" stroke="#1e1e1e" stroke-width="0.25">X (mm)</text>
<rect x="1793.2" y="2301.9" width="39.3" height="617.0" fill="url(#g13)" stroke="#404040" stroke-width="1" />
<text x="1838.6" y="2344.9" font-size="25.5" text-anchor="start" font-family="'Liberation Serif', 'Times New Roman', Times, serif" fill="#000" stroke="#000" stroke-width="0.25" >-7</text>
<text x="1838.6" y="2402.5" font-size="25.5" text-anchor="start" font-family="'Liberation Serif', 'Times New Roman', Times, serif" fill="#000" stroke="#000" stroke-width="0.25" >-8</text>
<text x="1838.6" y="2459.2" font-size="25.5" text-anchor="start" font-family="'Liberation Serif', 'Times New Roman', Times, serif" fill="#000" stroke="#000" stroke-width="0.25" >-9</text>
<text x="1838.6" y="2516.5" font-size="25.5" text-anchor="start" font-family="'Liberation Serif', 'Times New Roman', Times, serif" fill="#000" stroke="#000" stroke-width="0.25" >-10</text>
<text x="1838.6" y="2573.2" font-size="25.5" text-anchor="start" font-family="'Liberation Serif', 'Times New Roman', Times, serif" fill="#000" stroke="#000" stroke-width="0.25" >-11</text>
<text x="1838.6" y="2631.1" font-size="25.5" text-anchor="start" font-family="'Liberation Serif', 'Times New Roman', Times, serif" fill="#000" stroke="#000" stroke-width="0.25" >-12</text>
<text x="1838.6" y="2688.1" font-size="25.5" text-anchor="start" font-family="'Liberation Serif', 'Times New Roman', Times, serif" fill="#000" stroke="#000" stroke-width="0.25" >-13</text>
<text x="1838.6" y="2744.7" font-size="25.5" text-anchor="start" font-family="'Liberation Serif', 'Times New Roman', Times, serif" fill="#000" stroke="#000" stroke-width="0.25" >-14</text>
<text x="1838.6" y="2801.7" font-size="25.5" text-anchor="start" font-family="'Liberation Serif', 'Times New Roman', Times, serif" fill="#000" stroke="#000" stroke-width="0.25" >-15</text>
<text x="1838.6" y="2858.1" font-size="25.5" text-anchor="start" font-family="'Liberation Serif', 'Times New Roman', Times, serif" fill="#000" stroke="#000" stroke-width="0.25" >-16</text>
<text x="1838.6" y="2915.7" font-size="25.5" text-anchor="start" font-family="'Liberation Serif', 'Times New Roman', Times, serif" fill="#000" stroke="#000" stroke-width="0.25" >-17</text>
<line x1="1827.0" y1="2334.6" x2="1832.5" y2="2334.6" stroke="#444" stroke-width="1.2" />
<line x1="1827.0" y1="2392.2" x2="1832.5" y2="2392.2" stroke="#444" stroke-width="1.2" />
<line x1="1827.0" y1="2448.9" x2="1832.5" y2="2448.9" stroke="#444" stroke-width="1.2" />
<line x1="1827.0" y1="2506.2" x2="1832.5" y2="2506.2" stroke="#444" stroke-width="1.2" />
<line x1="1827.0" y1="2562.9" x2="1832.5" y2="2562.9" stroke="#444" stroke-width="1.2" />
<line x1="1827.0" y1="2620.8" x2="1832.5" y2="2620.8" stroke="#444" stroke-width="1.2" />
<line x1="1827.0" y1="2677.8" x2="1832.5" y2="2677.8" stroke="#444" stroke-width="1.2" />
<line x1="1827.0" y1="2734.4" x2="1832.5" y2="2734.4" stroke="#444" stroke-width="1.2" />
<line x1="1827.0" y1="2791.4" x2="1832.5" y2="2791.4" stroke="#444" stroke-width="1.2" />
<line x1="1827.0" y1="2847.8" x2="1832.5" y2="2847.8" stroke="#444" stroke-width="1.2" />
<line x1="1827.0" y1="2905.4" x2="1832.5" y2="2905.4" stroke="#444" stroke-width="1.2" />
<text x="499.2" y="793.5" font-size="76.5" text-anchor="middle" font-family="'Liberation Serif', 'Times New Roman', Times, serif" fill="#000" stroke="#000" stroke-width="0.25" >(a)</text>
<text x="1430.0" y="802.9" font-size="76.5" text-anchor="middle" font-family="'Liberation Serif', 'Times New Roman', Times, serif" fill="#000" stroke="#000" stroke-width="0.25" >(b)</text>
<text x="499.3" y="1558.9" font-size="76.5" text-anchor="middle" font-family="'Liberation Serif', 'Times New Roman', Times, serif" fill="#000" stroke="#000" stroke-width="0.25" >(c)</text>
<text x="1424.0" y="1558.9" font-size="76.5" text-anchor="middle" font-family="'Liberation Serif', 'Times New Roman', Times, serif" fill="#000" stroke="#000" stroke-width="0.25" >(d)</text>
<text x="502.5" y="2274.1" font-size="76.5" text-anchor="middle" font-family="'Liberation Serif', 'Times New Roman', Times, serif" fill="#000" stroke="#000" stroke-width="0.25" >(e)</text>
<text x="1436.5" y="2286.7" font-size="76.5" text-anchor="middle" font-family="'Liberation Serif', 'Times New Roman', Times, serif" fill="#000" stroke="#000" stroke-width="0.25" >(f)</text>
<text x="502.2" y="3008.4" font-size="76.5" text-anchor="middle" font-family="'Liberation Serif', 'Times New Roman', Times, serif" fill="#000" stroke="#000" stroke-width="0.25" >(g)</text>
<text x="1448.0" y="3008.4" font-size="76.5" text-anchor="middle" font-family="'Liberation Serif', 'Times New Roman', Times, serif" fill="#000" stroke="#000" stroke-width="0.25" >(h)</text>
</svg>
</body></html>
